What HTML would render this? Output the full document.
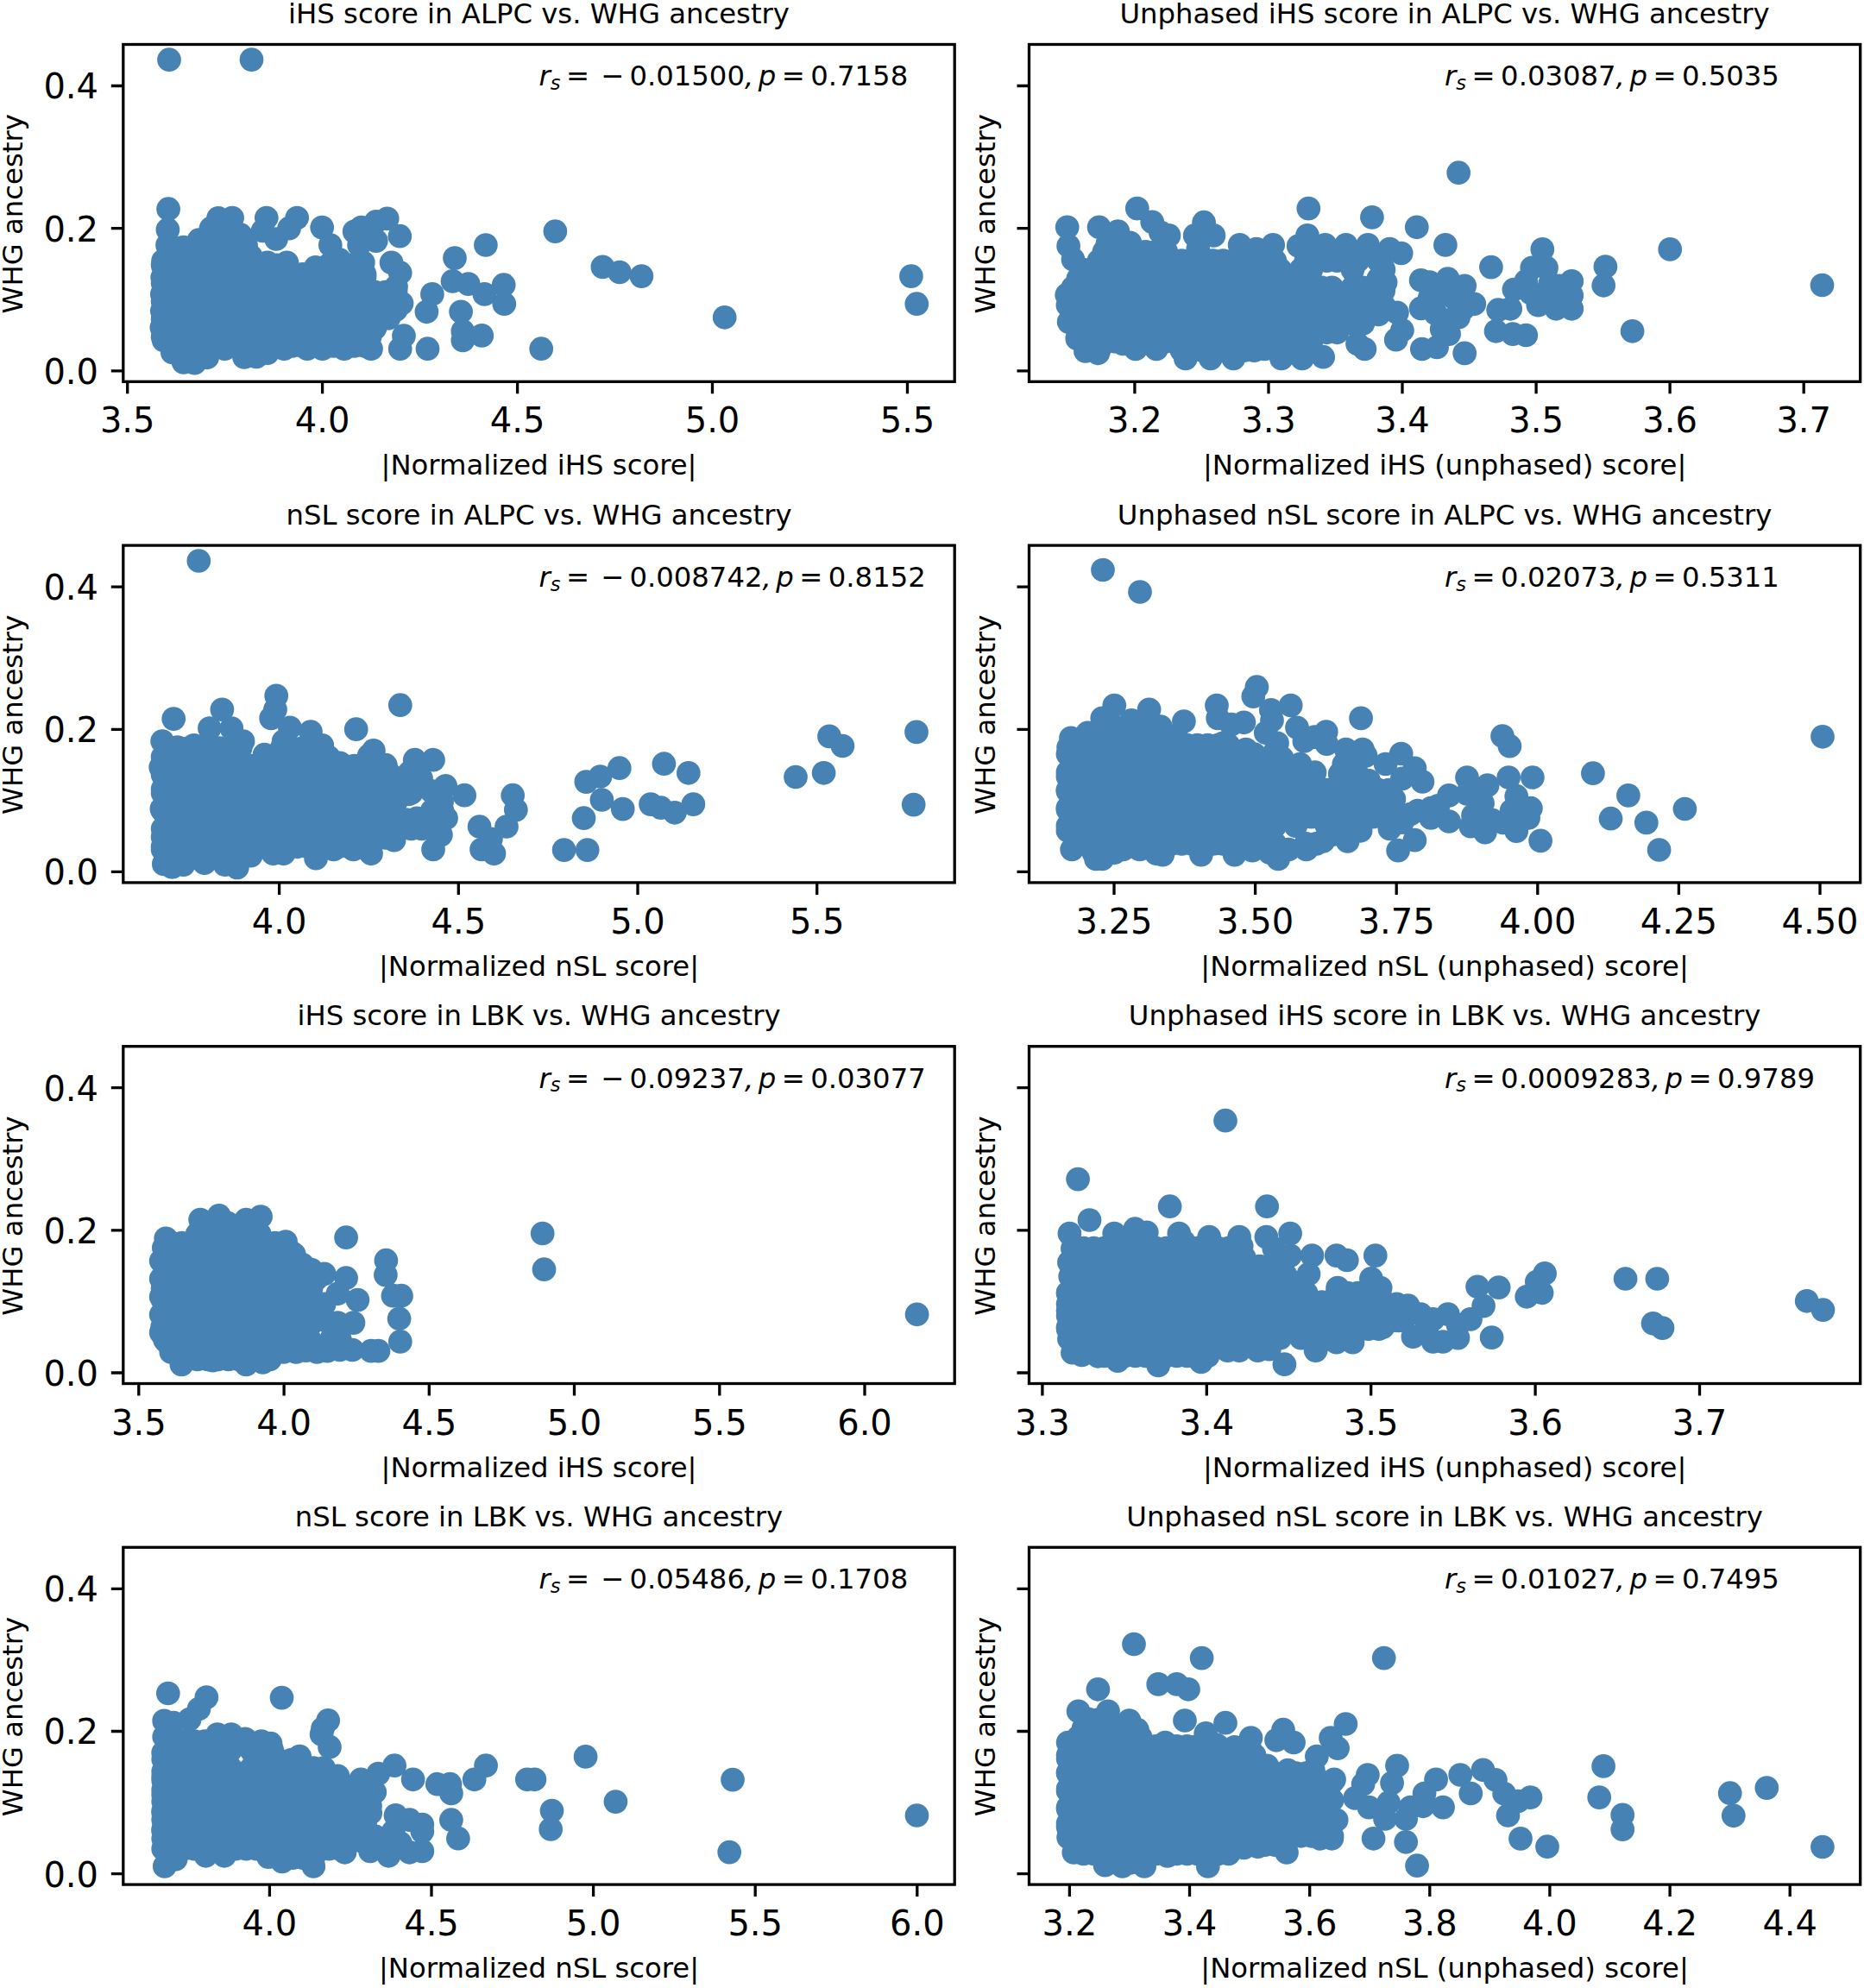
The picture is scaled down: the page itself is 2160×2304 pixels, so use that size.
<!DOCTYPE html>
<html lang="en"><head><meta charset="utf-8"><title>Selection scores vs. WHG ancestry</title>
<style>html,body{margin:0;padding:0;background:#fff}svg{display:block}text{font-family:"DejaVu Sans","Liberation Sans",sans-serif;fill:#000}.tk{font-size:40px}.lb{font-size:32.3px}.it{font-style:italic}.sub{font-size:22.61px;font-style:italic}.ax{fill:none;stroke:#000;stroke-width:3.3}.pt{fill:#4682b4}</style></head><body>
<svg width="2160" height="2304" viewBox="0 0 2160 2304">
<rect width="2160" height="2304" fill="#fff"/>
<g>
<g class="pt">
<circle cx="260.6" cy="265.8" r="13.85"/><circle cx="242.6" cy="276.2" r="13.85"/><circle cx="254.6" cy="276.2" r="13.85"/><circle cx="266.6" cy="276.2" r="13.85"/><circle cx="200.6" cy="286.6" r="13.85"/><circle cx="212.6" cy="286.6" r="13.85"/><circle cx="224.6" cy="286.6" r="13.85"/><circle cx="236.6" cy="286.6" r="13.85"/><circle cx="248.6" cy="286.6" r="13.85"/><circle cx="260.6" cy="286.6" r="13.85"/><circle cx="272.6" cy="286.6" r="13.85"/><circle cx="194.6" cy="297" r="13.85"/><circle cx="206.6" cy="297" r="13.85"/><circle cx="218.6" cy="297" r="13.85"/><circle cx="230.6" cy="297" r="13.85"/><circle cx="242.6" cy="297" r="13.85"/><circle cx="254.6" cy="297" r="13.85"/><circle cx="266.6" cy="297" r="13.85"/><circle cx="278.6" cy="297" r="13.85"/><circle cx="290.6" cy="297" r="13.85"/><circle cx="188.6" cy="307.4" r="13.85"/><circle cx="200.6" cy="307.4" r="13.85"/><circle cx="212.6" cy="307.4" r="13.85"/><circle cx="224.6" cy="307.4" r="13.85"/><circle cx="236.6" cy="307.4" r="13.85"/><circle cx="248.6" cy="307.4" r="13.85"/><circle cx="260.6" cy="307.4" r="13.85"/><circle cx="272.6" cy="307.4" r="13.85"/><circle cx="284.6" cy="307.4" r="13.85"/><circle cx="296.6" cy="307.4" r="13.85"/><circle cx="308.6" cy="307.4" r="13.85"/><circle cx="320.6" cy="307.4" r="13.85"/><circle cx="332.6" cy="307.4" r="13.85"/><circle cx="380.6" cy="307.4" r="13.85"/><circle cx="392.6" cy="307.4" r="13.85"/><circle cx="404.6" cy="307.4" r="13.85"/><circle cx="416.6" cy="307.4" r="13.85"/><circle cx="194.6" cy="317.8" r="13.85"/><circle cx="206.6" cy="317.8" r="13.85"/><circle cx="218.6" cy="317.8" r="13.85"/><circle cx="230.6" cy="317.8" r="13.85"/><circle cx="242.6" cy="317.8" r="13.85"/><circle cx="254.6" cy="317.8" r="13.85"/><circle cx="266.6" cy="317.8" r="13.85"/><circle cx="278.6" cy="317.8" r="13.85"/><circle cx="290.6" cy="317.8" r="13.85"/><circle cx="302.6" cy="317.8" r="13.85"/><circle cx="314.6" cy="317.8" r="13.85"/><circle cx="326.6" cy="317.8" r="13.85"/><circle cx="338.6" cy="317.8" r="13.85"/><circle cx="350.6" cy="317.8" r="13.85"/><circle cx="362.6" cy="317.8" r="13.85"/><circle cx="374.6" cy="317.8" r="13.85"/><circle cx="386.6" cy="317.8" r="13.85"/><circle cx="398.6" cy="317.8" r="13.85"/><circle cx="410.6" cy="317.8" r="13.85"/><circle cx="422.6" cy="317.8" r="13.85"/><circle cx="188.6" cy="328.1" r="13.85"/><circle cx="200.6" cy="328.1" r="13.85"/><circle cx="212.6" cy="328.1" r="13.85"/><circle cx="224.6" cy="328.1" r="13.85"/><circle cx="236.6" cy="328.1" r="13.85"/><circle cx="248.6" cy="328.1" r="13.85"/><circle cx="260.6" cy="328.1" r="13.85"/><circle cx="272.6" cy="328.1" r="13.85"/><circle cx="284.6" cy="328.1" r="13.85"/><circle cx="296.6" cy="328.1" r="13.85"/><circle cx="308.6" cy="328.1" r="13.85"/><circle cx="320.6" cy="328.1" r="13.85"/><circle cx="332.6" cy="328.1" r="13.85"/><circle cx="344.6" cy="328.1" r="13.85"/><circle cx="356.6" cy="328.1" r="13.85"/><circle cx="368.6" cy="328.1" r="13.85"/><circle cx="380.6" cy="328.1" r="13.85"/><circle cx="392.6" cy="328.1" r="13.85"/><circle cx="404.6" cy="328.1" r="13.85"/><circle cx="416.6" cy="328.1" r="13.85"/><circle cx="194.6" cy="338.5" r="13.85"/><circle cx="206.6" cy="338.5" r="13.85"/><circle cx="218.6" cy="338.5" r="13.85"/><circle cx="230.6" cy="338.5" r="13.85"/><circle cx="242.6" cy="338.5" r="13.85"/><circle cx="254.6" cy="338.5" r="13.85"/><circle cx="266.6" cy="338.5" r="13.85"/><circle cx="278.6" cy="338.5" r="13.85"/><circle cx="290.6" cy="338.5" r="13.85"/><circle cx="302.6" cy="338.5" r="13.85"/><circle cx="314.6" cy="338.5" r="13.85"/><circle cx="326.6" cy="338.5" r="13.85"/><circle cx="338.6" cy="338.5" r="13.85"/><circle cx="350.6" cy="338.5" r="13.85"/><circle cx="362.6" cy="338.5" r="13.85"/><circle cx="374.6" cy="338.5" r="13.85"/><circle cx="386.6" cy="338.5" r="13.85"/><circle cx="398.6" cy="338.5" r="13.85"/><circle cx="410.6" cy="338.5" r="13.85"/><circle cx="422.6" cy="338.5" r="13.85"/><circle cx="434.6" cy="338.5" r="13.85"/><circle cx="446.6" cy="338.5" r="13.85"/><circle cx="458.6" cy="338.5" r="13.85"/><circle cx="188.6" cy="348.9" r="13.85"/><circle cx="200.6" cy="348.9" r="13.85"/><circle cx="212.6" cy="348.9" r="13.85"/><circle cx="224.6" cy="348.9" r="13.85"/><circle cx="236.6" cy="348.9" r="13.85"/><circle cx="248.6" cy="348.9" r="13.85"/><circle cx="260.6" cy="348.9" r="13.85"/><circle cx="272.6" cy="348.9" r="13.85"/><circle cx="284.6" cy="348.9" r="13.85"/><circle cx="296.6" cy="348.9" r="13.85"/><circle cx="308.6" cy="348.9" r="13.85"/><circle cx="320.6" cy="348.9" r="13.85"/><circle cx="332.6" cy="348.9" r="13.85"/><circle cx="344.6" cy="348.9" r="13.85"/><circle cx="356.6" cy="348.9" r="13.85"/><circle cx="368.6" cy="348.9" r="13.85"/><circle cx="380.6" cy="348.9" r="13.85"/><circle cx="392.6" cy="348.9" r="13.85"/><circle cx="404.6" cy="348.9" r="13.85"/><circle cx="416.6" cy="348.9" r="13.85"/><circle cx="428.6" cy="348.9" r="13.85"/><circle cx="440.6" cy="348.9" r="13.85"/><circle cx="452.6" cy="348.9" r="13.85"/><circle cx="194.6" cy="359.3" r="13.85"/><circle cx="206.6" cy="359.3" r="13.85"/><circle cx="218.6" cy="359.3" r="13.85"/><circle cx="230.6" cy="359.3" r="13.85"/><circle cx="242.6" cy="359.3" r="13.85"/><circle cx="254.6" cy="359.3" r="13.85"/><circle cx="266.6" cy="359.3" r="13.85"/><circle cx="278.6" cy="359.3" r="13.85"/><circle cx="290.6" cy="359.3" r="13.85"/><circle cx="302.6" cy="359.3" r="13.85"/><circle cx="314.6" cy="359.3" r="13.85"/><circle cx="326.6" cy="359.3" r="13.85"/><circle cx="338.6" cy="359.3" r="13.85"/><circle cx="350.6" cy="359.3" r="13.85"/><circle cx="362.6" cy="359.3" r="13.85"/><circle cx="374.6" cy="359.3" r="13.85"/><circle cx="386.6" cy="359.3" r="13.85"/><circle cx="398.6" cy="359.3" r="13.85"/><circle cx="410.6" cy="359.3" r="13.85"/><circle cx="422.6" cy="359.3" r="13.85"/><circle cx="434.6" cy="359.3" r="13.85"/><circle cx="446.6" cy="359.3" r="13.85"/><circle cx="458.6" cy="359.3" r="13.85"/><circle cx="188.6" cy="369.7" r="13.85"/><circle cx="200.6" cy="369.7" r="13.85"/><circle cx="212.6" cy="369.7" r="13.85"/><circle cx="224.6" cy="369.7" r="13.85"/><circle cx="236.6" cy="369.7" r="13.85"/><circle cx="248.6" cy="369.7" r="13.85"/><circle cx="260.6" cy="369.7" r="13.85"/><circle cx="272.6" cy="369.7" r="13.85"/><circle cx="284.6" cy="369.7" r="13.85"/><circle cx="296.6" cy="369.7" r="13.85"/><circle cx="308.6" cy="369.7" r="13.85"/><circle cx="320.6" cy="369.7" r="13.85"/><circle cx="332.6" cy="369.7" r="13.85"/><circle cx="344.6" cy="369.7" r="13.85"/><circle cx="356.6" cy="369.7" r="13.85"/><circle cx="368.6" cy="369.7" r="13.85"/><circle cx="380.6" cy="369.7" r="13.85"/><circle cx="392.6" cy="369.7" r="13.85"/><circle cx="404.6" cy="369.7" r="13.85"/><circle cx="416.6" cy="369.7" r="13.85"/><circle cx="428.6" cy="369.7" r="13.85"/><circle cx="440.6" cy="369.7" r="13.85"/><circle cx="194.6" cy="380.1" r="13.85"/><circle cx="206.6" cy="380.1" r="13.85"/><circle cx="218.6" cy="380.1" r="13.85"/><circle cx="230.6" cy="380.1" r="13.85"/><circle cx="242.6" cy="380.1" r="13.85"/><circle cx="254.6" cy="380.1" r="13.85"/><circle cx="266.6" cy="380.1" r="13.85"/><circle cx="278.6" cy="380.1" r="13.85"/><circle cx="290.6" cy="380.1" r="13.85"/><circle cx="302.6" cy="380.1" r="13.85"/><circle cx="314.6" cy="380.1" r="13.85"/><circle cx="326.6" cy="380.1" r="13.85"/><circle cx="338.6" cy="380.1" r="13.85"/><circle cx="350.6" cy="380.1" r="13.85"/><circle cx="362.6" cy="380.1" r="13.85"/><circle cx="374.6" cy="380.1" r="13.85"/><circle cx="386.6" cy="380.1" r="13.85"/><circle cx="398.6" cy="380.1" r="13.85"/><circle cx="410.6" cy="380.1" r="13.85"/><circle cx="422.6" cy="380.1" r="13.85"/><circle cx="434.6" cy="380.1" r="13.85"/><circle cx="188.6" cy="390.5" r="13.85"/><circle cx="200.6" cy="390.5" r="13.85"/><circle cx="212.6" cy="390.5" r="13.85"/><circle cx="224.6" cy="390.5" r="13.85"/><circle cx="236.6" cy="390.5" r="13.85"/><circle cx="248.6" cy="390.5" r="13.85"/><circle cx="260.6" cy="390.5" r="13.85"/><circle cx="272.6" cy="390.5" r="13.85"/><circle cx="284.6" cy="390.5" r="13.85"/><circle cx="296.6" cy="390.5" r="13.85"/><circle cx="308.6" cy="390.5" r="13.85"/><circle cx="320.6" cy="390.5" r="13.85"/><circle cx="332.6" cy="390.5" r="13.85"/><circle cx="344.6" cy="390.5" r="13.85"/><circle cx="356.6" cy="390.5" r="13.85"/><circle cx="368.6" cy="390.5" r="13.85"/><circle cx="380.6" cy="390.5" r="13.85"/><circle cx="392.6" cy="390.5" r="13.85"/><circle cx="404.6" cy="390.5" r="13.85"/><circle cx="416.6" cy="390.5" r="13.85"/><circle cx="428.6" cy="390.5" r="13.85"/><circle cx="206.6" cy="400.9" r="13.85"/><circle cx="218.6" cy="400.9" r="13.85"/><circle cx="230.6" cy="400.9" r="13.85"/><circle cx="242.6" cy="400.9" r="13.85"/><circle cx="254.6" cy="400.9" r="13.85"/><circle cx="266.6" cy="400.9" r="13.85"/><circle cx="278.6" cy="400.9" r="13.85"/><circle cx="290.6" cy="400.9" r="13.85"/><circle cx="302.6" cy="400.9" r="13.85"/><circle cx="314.6" cy="400.9" r="13.85"/><circle cx="326.6" cy="400.9" r="13.85"/><circle cx="338.6" cy="400.9" r="13.85"/><circle cx="350.6" cy="400.9" r="13.85"/><circle cx="362.6" cy="400.9" r="13.85"/><circle cx="374.6" cy="400.9" r="13.85"/><circle cx="386.6" cy="400.9" r="13.85"/><circle cx="398.6" cy="400.9" r="13.85"/><circle cx="410.6" cy="400.9" r="13.85"/><circle cx="422.6" cy="400.9" r="13.85"/><circle cx="212.6" cy="411.3" r="13.85"/><circle cx="224.6" cy="411.3" r="13.85"/><circle cx="236.6" cy="411.3" r="13.85"/><circle cx="195.1" cy="242.2" r="13.85"/><circle cx="194.4" cy="266.2" r="13.85"/><circle cx="194" cy="284" r="13.85"/><circle cx="189.1" cy="302.3" r="13.85"/><circle cx="188.2" cy="321.6" r="13.85"/><circle cx="187.8" cy="340.9" r="13.85"/><circle cx="187.8" cy="360.2" r="13.85"/><circle cx="187.3" cy="379.5" r="13.85"/><circle cx="189.7" cy="394.5" r="13.85"/><circle cx="199.8" cy="408.5" r="13.85"/><circle cx="212.7" cy="419.9" r="13.85"/><circle cx="225.5" cy="420.7" r="13.85"/><circle cx="240.1" cy="414.3" r="13.85"/><circle cx="260.5" cy="404.2" r="13.85"/><circle cx="283" cy="413.9" r="13.85"/><circle cx="297" cy="413.4" r="13.85"/><circle cx="309.9" cy="409.1" r="13.85"/><circle cx="329.2" cy="404.2" r="13.85"/><circle cx="356" cy="404.2" r="13.85"/><circle cx="373.6" cy="404.2" r="13.85"/><circle cx="398.9" cy="404.2" r="13.85"/><circle cx="430" cy="404.2" r="13.85"/><circle cx="463.7" cy="404.2" r="13.85"/><circle cx="468" cy="389.2" r="13.85"/><circle cx="495.5" cy="404.2" r="13.85"/><circle cx="230.5" cy="278.2" r="13.85"/><circle cx="244.4" cy="264.7" r="13.85"/><circle cx="253" cy="252.9" r="13.85"/><circle cx="269.1" cy="252.5" r="13.85"/><circle cx="278.8" cy="272.2" r="13.85"/><circle cx="285.2" cy="285.1" r="13.85"/><circle cx="308.8" cy="252.5" r="13.85"/><circle cx="344.2" cy="252.5" r="13.85"/><circle cx="304.5" cy="267.5" r="13.85"/><circle cx="320" cy="277" r="13.85"/><circle cx="335" cy="264.7" r="13.85"/><circle cx="309.9" cy="304.4" r="13.85"/><circle cx="332.4" cy="304.4" r="13.85"/><circle cx="365.7" cy="309.8" r="13.85"/><circle cx="373.2" cy="263.6" r="13.85"/><circle cx="382.8" cy="284" r="13.85"/><circle cx="393.6" cy="301.2" r="13.85"/><circle cx="410.7" cy="268.4" r="13.85"/><circle cx="418.7" cy="263.6" r="13.85"/><circle cx="435.8" cy="256.8" r="13.85"/><circle cx="448.7" cy="253.3" r="13.85"/><circle cx="463.3" cy="273.7" r="13.85"/><circle cx="435.8" cy="279.1" r="13.85"/><circle cx="416.1" cy="284" r="13.85"/><circle cx="420.8" cy="304.4" r="13.85"/><circle cx="422.5" cy="321.6" r="13.85"/><circle cx="453.6" cy="304.4" r="13.85"/><circle cx="463.7" cy="316.2" r="13.85"/><circle cx="459" cy="332.3" r="13.85"/><circle cx="465.5" cy="351.6" r="13.85"/><circle cx="450.4" cy="368.8" r="13.85"/><circle cx="527" cy="299.1" r="13.85"/><circle cx="524.5" cy="325.9" r="13.85"/><circle cx="542.7" cy="329.1" r="13.85"/><circle cx="500.9" cy="340.9" r="13.85"/><circle cx="494.4" cy="361.3" r="13.85"/><circle cx="534.1" cy="361.3" r="13.85"/><circle cx="536.3" cy="383.8" r="13.85"/><circle cx="536.3" cy="394.5" r="13.85"/><circle cx="562.9" cy="284" r="13.85"/><circle cx="643.4" cy="268.1" r="13.85"/><circle cx="698.4" cy="309.4" r="13.85"/><circle cx="718" cy="315.5" r="13.85"/><circle cx="743.4" cy="320.1" r="13.85"/><circle cx="839.7" cy="367.8" r="13.85"/><circle cx="1055.9" cy="320.1" r="13.85"/><circle cx="1062.3" cy="352.2" r="13.85"/><circle cx="583.7" cy="330.2" r="13.85"/><circle cx="561.4" cy="340.9" r="13.85"/><circle cx="584.3" cy="352.2" r="13.85"/><circle cx="558.3" cy="388.9" r="13.85"/><circle cx="627.2" cy="404.2" r="13.85"/><circle cx="196" cy="69.2" r="13.85"/><circle cx="291.5" cy="69.1" r="13.85"/>
</g>
<path class="ax" d="M147.7 442.3v14.0M373.6 442.3v14.0M599.6 442.3v14.0M825.5 442.3v14.0M1051.5 442.3v14.0M142.8 429.8h-14.0M142.8 264.6h-14.0M142.8 99.5h-14.0"/>
<rect class="ax" x="142.8" y="51.5" width="963.4" height="390.8"/>
<text class="tk" text-anchor="middle" x="147.7" y="501.3">3.5</text>
<text class="tk" text-anchor="middle" x="373.6" y="501.3">4.0</text>
<text class="tk" text-anchor="middle" x="599.6" y="501.3">4.5</text>
<text class="tk" text-anchor="middle" x="825.5" y="501.3">5.0</text>
<text class="tk" text-anchor="middle" x="1051.5" y="501.3">5.5</text>
<text class="tk" text-anchor="end" x="114.0" y="444.7">0.0</text>
<text class="tk" text-anchor="end" x="114.0" y="279.5">0.2</text>
<text class="tk" text-anchor="end" x="114.0" y="114.4">0.4</text>
<text class="lb" text-anchor="middle" x="624.5" y="27.1">iHS score in ALPC vs. WHG ancestry</text>
<text class="lb" text-anchor="middle" x="624.5" y="550.3">|Normalized iHS score|</text>
<text class="lb" text-anchor="middle" transform="translate(26.4 247.8) rotate(-90)">WHG ancestry</text>
<text class="lb" y="99.3"><tspan class="it" x="624.4">r</tspan><tspan class="sub" x="637.7" dy="4.7">s</tspan><tspan x="655.9" dy="-4.7">=</tspan><tspan x="695.9">−</tspan><tspan x="729.4">0.01500</tspan><tspan class="it" x="863.0">,</tspan><tspan class="it" x="878.7">p</tspan><tspan x="905.7">=</tspan><tspan x="939.2">0.7158</tspan></text>
</g>
<g>
<g class="pt">
<circle cx="1285.4" cy="281.4" r="13.85"/><circle cx="1297.4" cy="281.4" r="13.85"/><circle cx="1309.4" cy="281.4" r="13.85"/><circle cx="1279.4" cy="291.8" r="13.85"/><circle cx="1291.4" cy="291.8" r="13.85"/><circle cx="1303.4" cy="291.8" r="13.85"/><circle cx="1315.4" cy="291.8" r="13.85"/><circle cx="1327.4" cy="291.8" r="13.85"/><circle cx="1339.4" cy="291.8" r="13.85"/><circle cx="1351.4" cy="291.8" r="13.85"/><circle cx="1519.4" cy="291.8" r="13.85"/><circle cx="1531.4" cy="291.8" r="13.85"/><circle cx="1543.4" cy="291.8" r="13.85"/><circle cx="1555.4" cy="291.8" r="13.85"/><circle cx="1567.4" cy="291.8" r="13.85"/><circle cx="1579.4" cy="291.8" r="13.85"/><circle cx="1273.4" cy="302.2" r="13.85"/><circle cx="1285.4" cy="302.2" r="13.85"/><circle cx="1297.4" cy="302.2" r="13.85"/><circle cx="1309.4" cy="302.2" r="13.85"/><circle cx="1321.4" cy="302.2" r="13.85"/><circle cx="1333.4" cy="302.2" r="13.85"/><circle cx="1345.4" cy="302.2" r="13.85"/><circle cx="1357.4" cy="302.2" r="13.85"/><circle cx="1369.4" cy="302.2" r="13.85"/><circle cx="1381.4" cy="302.2" r="13.85"/><circle cx="1393.4" cy="302.2" r="13.85"/><circle cx="1405.4" cy="302.2" r="13.85"/><circle cx="1417.4" cy="302.2" r="13.85"/><circle cx="1429.4" cy="302.2" r="13.85"/><circle cx="1441.4" cy="302.2" r="13.85"/><circle cx="1453.4" cy="302.2" r="13.85"/><circle cx="1465.4" cy="302.2" r="13.85"/><circle cx="1477.4" cy="302.2" r="13.85"/><circle cx="1513.4" cy="302.2" r="13.85"/><circle cx="1525.4" cy="302.2" r="13.85"/><circle cx="1537.4" cy="302.2" r="13.85"/><circle cx="1549.4" cy="302.2" r="13.85"/><circle cx="1561.4" cy="302.2" r="13.85"/><circle cx="1573.4" cy="302.2" r="13.85"/><circle cx="1597.4" cy="302.2" r="13.85"/><circle cx="1255.4" cy="312.6" r="13.85"/><circle cx="1267.4" cy="312.6" r="13.85"/><circle cx="1279.4" cy="312.6" r="13.85"/><circle cx="1291.4" cy="312.6" r="13.85"/><circle cx="1303.4" cy="312.6" r="13.85"/><circle cx="1315.4" cy="312.6" r="13.85"/><circle cx="1327.4" cy="312.6" r="13.85"/><circle cx="1339.4" cy="312.6" r="13.85"/><circle cx="1351.4" cy="312.6" r="13.85"/><circle cx="1363.4" cy="312.6" r="13.85"/><circle cx="1375.4" cy="312.6" r="13.85"/><circle cx="1387.4" cy="312.6" r="13.85"/><circle cx="1399.4" cy="312.6" r="13.85"/><circle cx="1411.4" cy="312.6" r="13.85"/><circle cx="1423.4" cy="312.6" r="13.85"/><circle cx="1435.4" cy="312.6" r="13.85"/><circle cx="1447.4" cy="312.6" r="13.85"/><circle cx="1459.4" cy="312.6" r="13.85"/><circle cx="1471.4" cy="312.6" r="13.85"/><circle cx="1483.4" cy="312.6" r="13.85"/><circle cx="1507.4" cy="312.6" r="13.85"/><circle cx="1519.4" cy="312.6" r="13.85"/><circle cx="1567.4" cy="312.6" r="13.85"/><circle cx="1603.4" cy="312.6" r="13.85"/><circle cx="1249.4" cy="323" r="13.85"/><circle cx="1261.4" cy="323" r="13.85"/><circle cx="1273.4" cy="323" r="13.85"/><circle cx="1285.4" cy="323" r="13.85"/><circle cx="1297.4" cy="323" r="13.85"/><circle cx="1309.4" cy="323" r="13.85"/><circle cx="1321.4" cy="323" r="13.85"/><circle cx="1333.4" cy="323" r="13.85"/><circle cx="1345.4" cy="323" r="13.85"/><circle cx="1357.4" cy="323" r="13.85"/><circle cx="1369.4" cy="323" r="13.85"/><circle cx="1381.4" cy="323" r="13.85"/><circle cx="1393.4" cy="323" r="13.85"/><circle cx="1405.4" cy="323" r="13.85"/><circle cx="1417.4" cy="323" r="13.85"/><circle cx="1429.4" cy="323" r="13.85"/><circle cx="1441.4" cy="323" r="13.85"/><circle cx="1453.4" cy="323" r="13.85"/><circle cx="1465.4" cy="323" r="13.85"/><circle cx="1477.4" cy="323" r="13.85"/><circle cx="1489.4" cy="323" r="13.85"/><circle cx="1501.4" cy="323" r="13.85"/><circle cx="1513.4" cy="323" r="13.85"/><circle cx="1597.4" cy="323" r="13.85"/><circle cx="1243.4" cy="333.4" r="13.85"/><circle cx="1255.4" cy="333.4" r="13.85"/><circle cx="1267.4" cy="333.4" r="13.85"/><circle cx="1279.4" cy="333.4" r="13.85"/><circle cx="1291.4" cy="333.4" r="13.85"/><circle cx="1303.4" cy="333.4" r="13.85"/><circle cx="1315.4" cy="333.4" r="13.85"/><circle cx="1327.4" cy="333.4" r="13.85"/><circle cx="1339.4" cy="333.4" r="13.85"/><circle cx="1351.4" cy="333.4" r="13.85"/><circle cx="1363.4" cy="333.4" r="13.85"/><circle cx="1375.4" cy="333.4" r="13.85"/><circle cx="1387.4" cy="333.4" r="13.85"/><circle cx="1399.4" cy="333.4" r="13.85"/><circle cx="1411.4" cy="333.4" r="13.85"/><circle cx="1423.4" cy="333.4" r="13.85"/><circle cx="1435.4" cy="333.4" r="13.85"/><circle cx="1447.4" cy="333.4" r="13.85"/><circle cx="1459.4" cy="333.4" r="13.85"/><circle cx="1471.4" cy="333.4" r="13.85"/><circle cx="1483.4" cy="333.4" r="13.85"/><circle cx="1495.4" cy="333.4" r="13.85"/><circle cx="1507.4" cy="333.4" r="13.85"/><circle cx="1519.4" cy="333.4" r="13.85"/><circle cx="1531.4" cy="333.4" r="13.85"/><circle cx="1543.4" cy="333.4" r="13.85"/><circle cx="1567.4" cy="333.4" r="13.85"/><circle cx="1579.4" cy="333.4" r="13.85"/><circle cx="1591.4" cy="333.4" r="13.85"/><circle cx="1603.4" cy="333.4" r="13.85"/><circle cx="1249.4" cy="343.7" r="13.85"/><circle cx="1261.4" cy="343.7" r="13.85"/><circle cx="1273.4" cy="343.7" r="13.85"/><circle cx="1285.4" cy="343.7" r="13.85"/><circle cx="1297.4" cy="343.7" r="13.85"/><circle cx="1309.4" cy="343.7" r="13.85"/><circle cx="1321.4" cy="343.7" r="13.85"/><circle cx="1333.4" cy="343.7" r="13.85"/><circle cx="1345.4" cy="343.7" r="13.85"/><circle cx="1357.4" cy="343.7" r="13.85"/><circle cx="1369.4" cy="343.7" r="13.85"/><circle cx="1381.4" cy="343.7" r="13.85"/><circle cx="1393.4" cy="343.7" r="13.85"/><circle cx="1405.4" cy="343.7" r="13.85"/><circle cx="1417.4" cy="343.7" r="13.85"/><circle cx="1429.4" cy="343.7" r="13.85"/><circle cx="1441.4" cy="343.7" r="13.85"/><circle cx="1453.4" cy="343.7" r="13.85"/><circle cx="1465.4" cy="343.7" r="13.85"/><circle cx="1477.4" cy="343.7" r="13.85"/><circle cx="1489.4" cy="343.7" r="13.85"/><circle cx="1501.4" cy="343.7" r="13.85"/><circle cx="1513.4" cy="343.7" r="13.85"/><circle cx="1525.4" cy="343.7" r="13.85"/><circle cx="1537.4" cy="343.7" r="13.85"/><circle cx="1549.4" cy="343.7" r="13.85"/><circle cx="1561.4" cy="343.7" r="13.85"/><circle cx="1573.4" cy="343.7" r="13.85"/><circle cx="1585.4" cy="343.7" r="13.85"/><circle cx="1597.4" cy="343.7" r="13.85"/><circle cx="1243.4" cy="354.1" r="13.85"/><circle cx="1255.4" cy="354.1" r="13.85"/><circle cx="1267.4" cy="354.1" r="13.85"/><circle cx="1279.4" cy="354.1" r="13.85"/><circle cx="1291.4" cy="354.1" r="13.85"/><circle cx="1303.4" cy="354.1" r="13.85"/><circle cx="1315.4" cy="354.1" r="13.85"/><circle cx="1327.4" cy="354.1" r="13.85"/><circle cx="1339.4" cy="354.1" r="13.85"/><circle cx="1351.4" cy="354.1" r="13.85"/><circle cx="1363.4" cy="354.1" r="13.85"/><circle cx="1375.4" cy="354.1" r="13.85"/><circle cx="1387.4" cy="354.1" r="13.85"/><circle cx="1399.4" cy="354.1" r="13.85"/><circle cx="1411.4" cy="354.1" r="13.85"/><circle cx="1423.4" cy="354.1" r="13.85"/><circle cx="1435.4" cy="354.1" r="13.85"/><circle cx="1447.4" cy="354.1" r="13.85"/><circle cx="1459.4" cy="354.1" r="13.85"/><circle cx="1471.4" cy="354.1" r="13.85"/><circle cx="1483.4" cy="354.1" r="13.85"/><circle cx="1495.4" cy="354.1" r="13.85"/><circle cx="1507.4" cy="354.1" r="13.85"/><circle cx="1519.4" cy="354.1" r="13.85"/><circle cx="1531.4" cy="354.1" r="13.85"/><circle cx="1543.4" cy="354.1" r="13.85"/><circle cx="1555.4" cy="354.1" r="13.85"/><circle cx="1567.4" cy="354.1" r="13.85"/><circle cx="1579.4" cy="354.1" r="13.85"/><circle cx="1591.4" cy="354.1" r="13.85"/><circle cx="1603.4" cy="354.1" r="13.85"/><circle cx="1249.4" cy="364.5" r="13.85"/><circle cx="1261.4" cy="364.5" r="13.85"/><circle cx="1273.4" cy="364.5" r="13.85"/><circle cx="1285.4" cy="364.5" r="13.85"/><circle cx="1297.4" cy="364.5" r="13.85"/><circle cx="1309.4" cy="364.5" r="13.85"/><circle cx="1321.4" cy="364.5" r="13.85"/><circle cx="1333.4" cy="364.5" r="13.85"/><circle cx="1345.4" cy="364.5" r="13.85"/><circle cx="1357.4" cy="364.5" r="13.85"/><circle cx="1369.4" cy="364.5" r="13.85"/><circle cx="1381.4" cy="364.5" r="13.85"/><circle cx="1393.4" cy="364.5" r="13.85"/><circle cx="1405.4" cy="364.5" r="13.85"/><circle cx="1417.4" cy="364.5" r="13.85"/><circle cx="1429.4" cy="364.5" r="13.85"/><circle cx="1441.4" cy="364.5" r="13.85"/><circle cx="1453.4" cy="364.5" r="13.85"/><circle cx="1465.4" cy="364.5" r="13.85"/><circle cx="1477.4" cy="364.5" r="13.85"/><circle cx="1489.4" cy="364.5" r="13.85"/><circle cx="1501.4" cy="364.5" r="13.85"/><circle cx="1513.4" cy="364.5" r="13.85"/><circle cx="1525.4" cy="364.5" r="13.85"/><circle cx="1537.4" cy="364.5" r="13.85"/><circle cx="1549.4" cy="364.5" r="13.85"/><circle cx="1561.4" cy="364.5" r="13.85"/><circle cx="1573.4" cy="364.5" r="13.85"/><circle cx="1585.4" cy="364.5" r="13.85"/><circle cx="1597.4" cy="364.5" r="13.85"/><circle cx="1243.4" cy="374.9" r="13.85"/><circle cx="1255.4" cy="374.9" r="13.85"/><circle cx="1267.4" cy="374.9" r="13.85"/><circle cx="1279.4" cy="374.9" r="13.85"/><circle cx="1291.4" cy="374.9" r="13.85"/><circle cx="1303.4" cy="374.9" r="13.85"/><circle cx="1315.4" cy="374.9" r="13.85"/><circle cx="1327.4" cy="374.9" r="13.85"/><circle cx="1339.4" cy="374.9" r="13.85"/><circle cx="1351.4" cy="374.9" r="13.85"/><circle cx="1363.4" cy="374.9" r="13.85"/><circle cx="1375.4" cy="374.9" r="13.85"/><circle cx="1387.4" cy="374.9" r="13.85"/><circle cx="1399.4" cy="374.9" r="13.85"/><circle cx="1411.4" cy="374.9" r="13.85"/><circle cx="1423.4" cy="374.9" r="13.85"/><circle cx="1435.4" cy="374.9" r="13.85"/><circle cx="1447.4" cy="374.9" r="13.85"/><circle cx="1459.4" cy="374.9" r="13.85"/><circle cx="1471.4" cy="374.9" r="13.85"/><circle cx="1483.4" cy="374.9" r="13.85"/><circle cx="1495.4" cy="374.9" r="13.85"/><circle cx="1507.4" cy="374.9" r="13.85"/><circle cx="1519.4" cy="374.9" r="13.85"/><circle cx="1531.4" cy="374.9" r="13.85"/><circle cx="1543.4" cy="374.9" r="13.85"/><circle cx="1555.4" cy="374.9" r="13.85"/><circle cx="1567.4" cy="374.9" r="13.85"/><circle cx="1579.4" cy="374.9" r="13.85"/><circle cx="1249.4" cy="385.3" r="13.85"/><circle cx="1261.4" cy="385.3" r="13.85"/><circle cx="1273.4" cy="385.3" r="13.85"/><circle cx="1285.4" cy="385.3" r="13.85"/><circle cx="1297.4" cy="385.3" r="13.85"/><circle cx="1309.4" cy="385.3" r="13.85"/><circle cx="1321.4" cy="385.3" r="13.85"/><circle cx="1333.4" cy="385.3" r="13.85"/><circle cx="1345.4" cy="385.3" r="13.85"/><circle cx="1357.4" cy="385.3" r="13.85"/><circle cx="1369.4" cy="385.3" r="13.85"/><circle cx="1381.4" cy="385.3" r="13.85"/><circle cx="1393.4" cy="385.3" r="13.85"/><circle cx="1405.4" cy="385.3" r="13.85"/><circle cx="1417.4" cy="385.3" r="13.85"/><circle cx="1429.4" cy="385.3" r="13.85"/><circle cx="1441.4" cy="385.3" r="13.85"/><circle cx="1453.4" cy="385.3" r="13.85"/><circle cx="1465.4" cy="385.3" r="13.85"/><circle cx="1477.4" cy="385.3" r="13.85"/><circle cx="1489.4" cy="385.3" r="13.85"/><circle cx="1501.4" cy="385.3" r="13.85"/><circle cx="1513.4" cy="385.3" r="13.85"/><circle cx="1525.4" cy="385.3" r="13.85"/><circle cx="1537.4" cy="385.3" r="13.85"/><circle cx="1549.4" cy="385.3" r="13.85"/><circle cx="1255.4" cy="395.7" r="13.85"/><circle cx="1267.4" cy="395.7" r="13.85"/><circle cx="1279.4" cy="395.7" r="13.85"/><circle cx="1291.4" cy="395.7" r="13.85"/><circle cx="1303.4" cy="395.7" r="13.85"/><circle cx="1315.4" cy="395.7" r="13.85"/><circle cx="1327.4" cy="395.7" r="13.85"/><circle cx="1339.4" cy="395.7" r="13.85"/><circle cx="1351.4" cy="395.7" r="13.85"/><circle cx="1363.4" cy="395.7" r="13.85"/><circle cx="1375.4" cy="395.7" r="13.85"/><circle cx="1387.4" cy="395.7" r="13.85"/><circle cx="1399.4" cy="395.7" r="13.85"/><circle cx="1411.4" cy="395.7" r="13.85"/><circle cx="1423.4" cy="395.7" r="13.85"/><circle cx="1435.4" cy="395.7" r="13.85"/><circle cx="1447.4" cy="395.7" r="13.85"/><circle cx="1459.4" cy="395.7" r="13.85"/><circle cx="1471.4" cy="395.7" r="13.85"/><circle cx="1483.4" cy="395.7" r="13.85"/><circle cx="1495.4" cy="395.7" r="13.85"/><circle cx="1507.4" cy="395.7" r="13.85"/><circle cx="1519.4" cy="395.7" r="13.85"/><circle cx="1273.4" cy="406.1" r="13.85"/><circle cx="1369.4" cy="406.1" r="13.85"/><circle cx="1381.4" cy="406.1" r="13.85"/><circle cx="1393.4" cy="406.1" r="13.85"/><circle cx="1405.4" cy="406.1" r="13.85"/><circle cx="1417.4" cy="406.1" r="13.85"/><circle cx="1429.4" cy="406.1" r="13.85"/><circle cx="1441.4" cy="406.1" r="13.85"/><circle cx="1453.4" cy="406.1" r="13.85"/><circle cx="1236.7" cy="263.3" r="13.85"/><circle cx="1238.1" cy="285" r="13.85"/><circle cx="1243.5" cy="300.7" r="13.85"/><circle cx="1236.2" cy="341.7" r="13.85"/><circle cx="1237.4" cy="353.8" r="13.85"/><circle cx="1238.6" cy="373.1" r="13.85"/><circle cx="1248.3" cy="392.4" r="13.85"/><circle cx="1257.9" cy="406.9" r="13.85"/><circle cx="1272.4" cy="409.3" r="13.85"/><circle cx="1273.6" cy="263.3" r="13.85"/><circle cx="1295.4" cy="268.1" r="13.85"/><circle cx="1283.3" cy="282.6" r="13.85"/><circle cx="1317.8" cy="241.6" r="13.85"/><circle cx="1335.2" cy="257.3" r="13.85"/><circle cx="1344.8" cy="269.3" r="13.85"/><circle cx="1354.5" cy="272.9" r="13.85"/><circle cx="1395.1" cy="257.7" r="13.85"/><circle cx="1384.7" cy="272.9" r="13.85"/><circle cx="1406.4" cy="272.9" r="13.85"/><circle cx="1388.3" cy="288.6" r="13.85"/><circle cx="1436.6" cy="283.8" r="13.85"/><circle cx="1455.9" cy="288.6" r="13.85"/><circle cx="1475.2" cy="283.8" r="13.85"/><circle cx="1516.3" cy="241.6" r="13.85"/><circle cx="1515" cy="272.9" r="13.85"/><circle cx="1504.7" cy="285" r="13.85"/><circle cx="1535.6" cy="283.8" r="13.85"/><circle cx="1559.7" cy="283.8" r="13.85"/><circle cx="1585.1" cy="283.8" r="13.85"/><circle cx="1610.4" cy="288.6" r="13.85"/><circle cx="1623.7" cy="293.5" r="13.85"/><circle cx="1589.9" cy="251.9" r="13.85"/><circle cx="1641.8" cy="263.3" r="13.85"/><circle cx="1602" cy="310.4" r="13.85"/><circle cx="1605.6" cy="327.3" r="13.85"/><circle cx="1603.2" cy="336.9" r="13.85"/><circle cx="1618.9" cy="362.3" r="13.85"/><circle cx="1624.9" cy="382.8" r="13.85"/><circle cx="1617.7" cy="393.7" r="13.85"/><circle cx="1573" cy="398.5" r="13.85"/><circle cx="1581.4" cy="404.5" r="13.85"/><circle cx="1533.2" cy="413.7" r="13.85"/><circle cx="1509" cy="415.4" r="13.85"/><circle cx="1484.9" cy="415.4" r="13.85"/><circle cx="1646.6" cy="324.8" r="13.85"/><circle cx="1646.6" cy="357.4" r="13.85"/><circle cx="1647.8" cy="404.5" r="13.85"/><circle cx="1301.4" cy="398.5" r="13.85"/><circle cx="1315.9" cy="404.5" r="13.85"/><circle cx="1340" cy="404.5" r="13.85"/><circle cx="1373.8" cy="415.4" r="13.85"/><circle cx="1402.8" cy="415.4" r="13.85"/><circle cx="1429.3" cy="415.4" r="13.85"/><circle cx="1465.6" cy="404.5" r="13.85"/><circle cx="1690.2" cy="200.2" r="13.85"/><circle cx="1674.9" cy="283.9" r="13.85"/><circle cx="1727.9" cy="309.6" r="13.85"/><circle cx="1787.3" cy="288.9" r="13.85"/><circle cx="1775.3" cy="310.4" r="13.85"/><circle cx="1792" cy="310.4" r="13.85"/><circle cx="1768.3" cy="325.8" r="13.85"/><circle cx="1754.4" cy="335.5" r="13.85"/><circle cx="1821.3" cy="325.8" r="13.85"/><circle cx="1807.4" cy="331.3" r="13.85"/><circle cx="1821.3" cy="342.5" r="13.85"/><circle cx="1782.3" cy="353.6" r="13.85"/><circle cx="1803.2" cy="357.8" r="13.85"/><circle cx="1821.3" cy="357.8" r="13.85"/><circle cx="1790.6" cy="339.7" r="13.85"/><circle cx="1860.4" cy="309" r="13.85"/><circle cx="1858.2" cy="330.8" r="13.85"/><circle cx="1935.2" cy="288.9" r="13.85"/><circle cx="2111.5" cy="330.5" r="13.85"/><circle cx="1891.6" cy="383.8" r="13.85"/><circle cx="1736.2" cy="359.2" r="13.85"/><circle cx="1750.2" cy="357.8" r="13.85"/><circle cx="1733.5" cy="383.8" r="13.85"/><circle cx="1753" cy="387.1" r="13.85"/><circle cx="1768.3" cy="388.5" r="13.85"/><circle cx="1656.7" cy="327.1" r="13.85"/><circle cx="1677.7" cy="323" r="13.85"/><circle cx="1697.2" cy="331.3" r="13.85"/><circle cx="1684.6" cy="345.3" r="13.85"/><circle cx="1708.3" cy="352.3" r="13.85"/><circle cx="1663.7" cy="363.4" r="13.85"/><circle cx="1681.8" cy="370.4" r="13.85"/><circle cx="1679.1" cy="387.1" r="13.85"/><circle cx="1665.1" cy="402.5" r="13.85"/><circle cx="1697.2" cy="409.4" r="13.85"/><circle cx="1667.9" cy="342.5" r="13.85"/><circle cx="1695.8" cy="357.8" r="13.85"/><circle cx="1670.7" cy="381.5" r="13.85"/><circle cx="1656.7" cy="345.3" r="13.85"/><circle cx="1690.2" cy="367.6" r="13.85"/><circle cx="1796.2" cy="328.5" r="13.85"/><circle cx="1807.4" cy="345.3" r="13.85"/><circle cx="1773.9" cy="339.7" r="13.85"/>
</g>
<path class="ax" d="M1314.9 442.3v14.0M1470.0 442.3v14.0M1625.0 442.3v14.0M1780.1 442.3v14.0M1935.1 442.3v14.0M2090.2 442.3v14.0M1192.5 429.8h-14.0M1192.5 264.6h-14.0M1192.5 99.5h-14.0"/>
<rect class="ax" x="1192.5" y="51.5" width="963.2" height="390.8"/>
<text class="tk" text-anchor="middle" x="1314.9" y="501.3">3.2</text>
<text class="tk" text-anchor="middle" x="1470.0" y="501.3">3.3</text>
<text class="tk" text-anchor="middle" x="1625.0" y="501.3">3.4</text>
<text class="tk" text-anchor="middle" x="1780.1" y="501.3">3.5</text>
<text class="tk" text-anchor="middle" x="1935.1" y="501.3">3.6</text>
<text class="tk" text-anchor="middle" x="2090.2" y="501.3">3.7</text>
<text class="lb" text-anchor="middle" x="1674.1" y="27.1">Unphased iHS score in ALPC vs. WHG ancestry</text>
<text class="lb" text-anchor="middle" x="1674.1" y="550.3">|Normalized iHS (unphased) score|</text>
<text class="lb" text-anchor="middle" transform="translate(1152.8 247.8) rotate(-90)">WHG ancestry</text>
<text class="lb" y="99.3"><tspan class="it" x="1674.1">r</tspan><tspan class="sub" x="1687.3" dy="4.7">s</tspan><tspan x="1705.6" dy="-4.7">=</tspan><tspan x="1739.1">0.03087</tspan><tspan class="it" x="1872.6">,</tspan><tspan class="it" x="1888.4">p</tspan><tspan x="1915.4">=</tspan><tspan x="1948.9">0.5035</tspan></text>
</g>
<g>
<g class="pt">
<circle cx="194.6" cy="867" r="13.85"/><circle cx="206.6" cy="867" r="13.85"/><circle cx="218.6" cy="867" r="13.85"/><circle cx="230.6" cy="867" r="13.85"/><circle cx="242.6" cy="867" r="13.85"/><circle cx="254.6" cy="867" r="13.85"/><circle cx="266.6" cy="867" r="13.85"/><circle cx="278.6" cy="867" r="13.85"/><circle cx="326.6" cy="867" r="13.85"/><circle cx="338.6" cy="867" r="13.85"/><circle cx="350.6" cy="867" r="13.85"/><circle cx="362.6" cy="867" r="13.85"/><circle cx="188.6" cy="877.4" r="13.85"/><circle cx="200.6" cy="877.4" r="13.85"/><circle cx="212.6" cy="877.4" r="13.85"/><circle cx="224.6" cy="877.4" r="13.85"/><circle cx="236.6" cy="877.4" r="13.85"/><circle cx="248.6" cy="877.4" r="13.85"/><circle cx="260.6" cy="877.4" r="13.85"/><circle cx="272.6" cy="877.4" r="13.85"/><circle cx="308.6" cy="877.4" r="13.85"/><circle cx="320.6" cy="877.4" r="13.85"/><circle cx="332.6" cy="877.4" r="13.85"/><circle cx="344.6" cy="877.4" r="13.85"/><circle cx="356.6" cy="877.4" r="13.85"/><circle cx="368.6" cy="877.4" r="13.85"/><circle cx="380.6" cy="877.4" r="13.85"/><circle cx="194.6" cy="887.7" r="13.85"/><circle cx="206.6" cy="887.7" r="13.85"/><circle cx="218.6" cy="887.7" r="13.85"/><circle cx="230.6" cy="887.7" r="13.85"/><circle cx="242.6" cy="887.7" r="13.85"/><circle cx="254.6" cy="887.7" r="13.85"/><circle cx="266.6" cy="887.7" r="13.85"/><circle cx="278.6" cy="887.7" r="13.85"/><circle cx="290.6" cy="887.7" r="13.85"/><circle cx="302.6" cy="887.7" r="13.85"/><circle cx="314.6" cy="887.7" r="13.85"/><circle cx="326.6" cy="887.7" r="13.85"/><circle cx="338.6" cy="887.7" r="13.85"/><circle cx="350.6" cy="887.7" r="13.85"/><circle cx="362.6" cy="887.7" r="13.85"/><circle cx="374.6" cy="887.7" r="13.85"/><circle cx="386.6" cy="887.7" r="13.85"/><circle cx="398.6" cy="887.7" r="13.85"/><circle cx="410.6" cy="887.7" r="13.85"/><circle cx="422.6" cy="887.7" r="13.85"/><circle cx="434.6" cy="887.7" r="13.85"/><circle cx="188.6" cy="898.1" r="13.85"/><circle cx="200.6" cy="898.1" r="13.85"/><circle cx="212.6" cy="898.1" r="13.85"/><circle cx="224.6" cy="898.1" r="13.85"/><circle cx="236.6" cy="898.1" r="13.85"/><circle cx="248.6" cy="898.1" r="13.85"/><circle cx="260.6" cy="898.1" r="13.85"/><circle cx="272.6" cy="898.1" r="13.85"/><circle cx="284.6" cy="898.1" r="13.85"/><circle cx="296.6" cy="898.1" r="13.85"/><circle cx="308.6" cy="898.1" r="13.85"/><circle cx="320.6" cy="898.1" r="13.85"/><circle cx="332.6" cy="898.1" r="13.85"/><circle cx="344.6" cy="898.1" r="13.85"/><circle cx="356.6" cy="898.1" r="13.85"/><circle cx="368.6" cy="898.1" r="13.85"/><circle cx="380.6" cy="898.1" r="13.85"/><circle cx="392.6" cy="898.1" r="13.85"/><circle cx="404.6" cy="898.1" r="13.85"/><circle cx="416.6" cy="898.1" r="13.85"/><circle cx="428.6" cy="898.1" r="13.85"/><circle cx="440.6" cy="898.1" r="13.85"/><circle cx="452.6" cy="898.1" r="13.85"/><circle cx="194.6" cy="908.5" r="13.85"/><circle cx="206.6" cy="908.5" r="13.85"/><circle cx="218.6" cy="908.5" r="13.85"/><circle cx="230.6" cy="908.5" r="13.85"/><circle cx="242.6" cy="908.5" r="13.85"/><circle cx="254.6" cy="908.5" r="13.85"/><circle cx="266.6" cy="908.5" r="13.85"/><circle cx="278.6" cy="908.5" r="13.85"/><circle cx="290.6" cy="908.5" r="13.85"/><circle cx="302.6" cy="908.5" r="13.85"/><circle cx="314.6" cy="908.5" r="13.85"/><circle cx="326.6" cy="908.5" r="13.85"/><circle cx="338.6" cy="908.5" r="13.85"/><circle cx="350.6" cy="908.5" r="13.85"/><circle cx="362.6" cy="908.5" r="13.85"/><circle cx="374.6" cy="908.5" r="13.85"/><circle cx="386.6" cy="908.5" r="13.85"/><circle cx="398.6" cy="908.5" r="13.85"/><circle cx="410.6" cy="908.5" r="13.85"/><circle cx="422.6" cy="908.5" r="13.85"/><circle cx="434.6" cy="908.5" r="13.85"/><circle cx="446.6" cy="908.5" r="13.85"/><circle cx="458.6" cy="908.5" r="13.85"/><circle cx="470.6" cy="908.5" r="13.85"/><circle cx="482.6" cy="908.5" r="13.85"/><circle cx="188.6" cy="918.9" r="13.85"/><circle cx="200.6" cy="918.9" r="13.85"/><circle cx="212.6" cy="918.9" r="13.85"/><circle cx="224.6" cy="918.9" r="13.85"/><circle cx="236.6" cy="918.9" r="13.85"/><circle cx="248.6" cy="918.9" r="13.85"/><circle cx="260.6" cy="918.9" r="13.85"/><circle cx="272.6" cy="918.9" r="13.85"/><circle cx="284.6" cy="918.9" r="13.85"/><circle cx="296.6" cy="918.9" r="13.85"/><circle cx="308.6" cy="918.9" r="13.85"/><circle cx="320.6" cy="918.9" r="13.85"/><circle cx="332.6" cy="918.9" r="13.85"/><circle cx="344.6" cy="918.9" r="13.85"/><circle cx="356.6" cy="918.9" r="13.85"/><circle cx="368.6" cy="918.9" r="13.85"/><circle cx="380.6" cy="918.9" r="13.85"/><circle cx="392.6" cy="918.9" r="13.85"/><circle cx="404.6" cy="918.9" r="13.85"/><circle cx="416.6" cy="918.9" r="13.85"/><circle cx="428.6" cy="918.9" r="13.85"/><circle cx="440.6" cy="918.9" r="13.85"/><circle cx="452.6" cy="918.9" r="13.85"/><circle cx="464.6" cy="918.9" r="13.85"/><circle cx="476.6" cy="918.9" r="13.85"/><circle cx="194.6" cy="929.3" r="13.85"/><circle cx="206.6" cy="929.3" r="13.85"/><circle cx="218.6" cy="929.3" r="13.85"/><circle cx="230.6" cy="929.3" r="13.85"/><circle cx="242.6" cy="929.3" r="13.85"/><circle cx="254.6" cy="929.3" r="13.85"/><circle cx="266.6" cy="929.3" r="13.85"/><circle cx="278.6" cy="929.3" r="13.85"/><circle cx="290.6" cy="929.3" r="13.85"/><circle cx="302.6" cy="929.3" r="13.85"/><circle cx="314.6" cy="929.3" r="13.85"/><circle cx="326.6" cy="929.3" r="13.85"/><circle cx="338.6" cy="929.3" r="13.85"/><circle cx="350.6" cy="929.3" r="13.85"/><circle cx="362.6" cy="929.3" r="13.85"/><circle cx="374.6" cy="929.3" r="13.85"/><circle cx="386.6" cy="929.3" r="13.85"/><circle cx="398.6" cy="929.3" r="13.85"/><circle cx="410.6" cy="929.3" r="13.85"/><circle cx="422.6" cy="929.3" r="13.85"/><circle cx="434.6" cy="929.3" r="13.85"/><circle cx="446.6" cy="929.3" r="13.85"/><circle cx="458.6" cy="929.3" r="13.85"/><circle cx="188.6" cy="939.7" r="13.85"/><circle cx="200.6" cy="939.7" r="13.85"/><circle cx="212.6" cy="939.7" r="13.85"/><circle cx="224.6" cy="939.7" r="13.85"/><circle cx="236.6" cy="939.7" r="13.85"/><circle cx="248.6" cy="939.7" r="13.85"/><circle cx="260.6" cy="939.7" r="13.85"/><circle cx="272.6" cy="939.7" r="13.85"/><circle cx="284.6" cy="939.7" r="13.85"/><circle cx="296.6" cy="939.7" r="13.85"/><circle cx="308.6" cy="939.7" r="13.85"/><circle cx="320.6" cy="939.7" r="13.85"/><circle cx="332.6" cy="939.7" r="13.85"/><circle cx="344.6" cy="939.7" r="13.85"/><circle cx="356.6" cy="939.7" r="13.85"/><circle cx="368.6" cy="939.7" r="13.85"/><circle cx="380.6" cy="939.7" r="13.85"/><circle cx="392.6" cy="939.7" r="13.85"/><circle cx="404.6" cy="939.7" r="13.85"/><circle cx="416.6" cy="939.7" r="13.85"/><circle cx="428.6" cy="939.7" r="13.85"/><circle cx="440.6" cy="939.7" r="13.85"/><circle cx="452.6" cy="939.7" r="13.85"/><circle cx="500.6" cy="939.7" r="13.85"/><circle cx="512.6" cy="939.7" r="13.85"/><circle cx="194.6" cy="950.1" r="13.85"/><circle cx="206.6" cy="950.1" r="13.85"/><circle cx="218.6" cy="950.1" r="13.85"/><circle cx="230.6" cy="950.1" r="13.85"/><circle cx="242.6" cy="950.1" r="13.85"/><circle cx="254.6" cy="950.1" r="13.85"/><circle cx="266.6" cy="950.1" r="13.85"/><circle cx="278.6" cy="950.1" r="13.85"/><circle cx="290.6" cy="950.1" r="13.85"/><circle cx="302.6" cy="950.1" r="13.85"/><circle cx="314.6" cy="950.1" r="13.85"/><circle cx="326.6" cy="950.1" r="13.85"/><circle cx="338.6" cy="950.1" r="13.85"/><circle cx="350.6" cy="950.1" r="13.85"/><circle cx="362.6" cy="950.1" r="13.85"/><circle cx="374.6" cy="950.1" r="13.85"/><circle cx="386.6" cy="950.1" r="13.85"/><circle cx="398.6" cy="950.1" r="13.85"/><circle cx="410.6" cy="950.1" r="13.85"/><circle cx="422.6" cy="950.1" r="13.85"/><circle cx="434.6" cy="950.1" r="13.85"/><circle cx="446.6" cy="950.1" r="13.85"/><circle cx="458.6" cy="950.1" r="13.85"/><circle cx="470.6" cy="950.1" r="13.85"/><circle cx="482.6" cy="950.1" r="13.85"/><circle cx="494.6" cy="950.1" r="13.85"/><circle cx="506.6" cy="950.1" r="13.85"/><circle cx="188.6" cy="960.5" r="13.85"/><circle cx="200.6" cy="960.5" r="13.85"/><circle cx="212.6" cy="960.5" r="13.85"/><circle cx="224.6" cy="960.5" r="13.85"/><circle cx="236.6" cy="960.5" r="13.85"/><circle cx="248.6" cy="960.5" r="13.85"/><circle cx="260.6" cy="960.5" r="13.85"/><circle cx="272.6" cy="960.5" r="13.85"/><circle cx="284.6" cy="960.5" r="13.85"/><circle cx="296.6" cy="960.5" r="13.85"/><circle cx="308.6" cy="960.5" r="13.85"/><circle cx="320.6" cy="960.5" r="13.85"/><circle cx="332.6" cy="960.5" r="13.85"/><circle cx="344.6" cy="960.5" r="13.85"/><circle cx="356.6" cy="960.5" r="13.85"/><circle cx="368.6" cy="960.5" r="13.85"/><circle cx="380.6" cy="960.5" r="13.85"/><circle cx="392.6" cy="960.5" r="13.85"/><circle cx="404.6" cy="960.5" r="13.85"/><circle cx="416.6" cy="960.5" r="13.85"/><circle cx="428.6" cy="960.5" r="13.85"/><circle cx="440.6" cy="960.5" r="13.85"/><circle cx="452.6" cy="960.5" r="13.85"/><circle cx="464.6" cy="960.5" r="13.85"/><circle cx="476.6" cy="960.5" r="13.85"/><circle cx="488.6" cy="960.5" r="13.85"/><circle cx="500.6" cy="960.5" r="13.85"/><circle cx="194.6" cy="970.9" r="13.85"/><circle cx="206.6" cy="970.9" r="13.85"/><circle cx="218.6" cy="970.9" r="13.85"/><circle cx="230.6" cy="970.9" r="13.85"/><circle cx="242.6" cy="970.9" r="13.85"/><circle cx="254.6" cy="970.9" r="13.85"/><circle cx="266.6" cy="970.9" r="13.85"/><circle cx="278.6" cy="970.9" r="13.85"/><circle cx="290.6" cy="970.9" r="13.85"/><circle cx="302.6" cy="970.9" r="13.85"/><circle cx="314.6" cy="970.9" r="13.85"/><circle cx="326.6" cy="970.9" r="13.85"/><circle cx="338.6" cy="970.9" r="13.85"/><circle cx="350.6" cy="970.9" r="13.85"/><circle cx="362.6" cy="970.9" r="13.85"/><circle cx="374.6" cy="970.9" r="13.85"/><circle cx="386.6" cy="970.9" r="13.85"/><circle cx="398.6" cy="970.9" r="13.85"/><circle cx="410.6" cy="970.9" r="13.85"/><circle cx="422.6" cy="970.9" r="13.85"/><circle cx="434.6" cy="970.9" r="13.85"/><circle cx="446.6" cy="970.9" r="13.85"/><circle cx="188.6" cy="981.3" r="13.85"/><circle cx="200.6" cy="981.3" r="13.85"/><circle cx="212.6" cy="981.3" r="13.85"/><circle cx="224.6" cy="981.3" r="13.85"/><circle cx="236.6" cy="981.3" r="13.85"/><circle cx="248.6" cy="981.3" r="13.85"/><circle cx="260.6" cy="981.3" r="13.85"/><circle cx="272.6" cy="981.3" r="13.85"/><circle cx="284.6" cy="981.3" r="13.85"/><circle cx="296.6" cy="981.3" r="13.85"/><circle cx="308.6" cy="981.3" r="13.85"/><circle cx="320.6" cy="981.3" r="13.85"/><circle cx="332.6" cy="981.3" r="13.85"/><circle cx="344.6" cy="981.3" r="13.85"/><circle cx="356.6" cy="981.3" r="13.85"/><circle cx="368.6" cy="981.3" r="13.85"/><circle cx="380.6" cy="981.3" r="13.85"/><circle cx="392.6" cy="981.3" r="13.85"/><circle cx="404.6" cy="981.3" r="13.85"/><circle cx="416.6" cy="981.3" r="13.85"/><circle cx="428.6" cy="981.3" r="13.85"/><circle cx="194.6" cy="991.7" r="13.85"/><circle cx="206.6" cy="991.7" r="13.85"/><circle cx="218.6" cy="991.7" r="13.85"/><circle cx="230.6" cy="991.7" r="13.85"/><circle cx="242.6" cy="991.7" r="13.85"/><circle cx="254.6" cy="991.7" r="13.85"/><circle cx="266.6" cy="991.7" r="13.85"/><circle cx="278.6" cy="991.7" r="13.85"/><circle cx="290.6" cy="991.7" r="13.85"/><circle cx="200.6" cy="1002.1" r="13.85"/><circle cx="212.6" cy="1002.1" r="13.85"/><circle cx="260.6" cy="1002.1" r="13.85"/><circle cx="272.6" cy="1002.1" r="13.85"/><circle cx="201.2" cy="833.1" r="13.85"/><circle cx="188.1" cy="859" r="13.85"/><circle cx="186.2" cy="889.2" r="13.85"/><circle cx="188.6" cy="914.5" r="13.85"/><circle cx="187.4" cy="937.4" r="13.85"/><circle cx="188.6" cy="970" r="13.85"/><circle cx="188.6" cy="984.5" r="13.85"/><circle cx="189.8" cy="1001.4" r="13.85"/><circle cx="257.4" cy="822.3" r="13.85"/><circle cx="242.9" cy="844" r="13.85"/><circle cx="268.3" cy="844" r="13.85"/><circle cx="281.6" cy="859" r="13.85"/><circle cx="224.8" cy="863.8" r="13.85"/><circle cx="205.5" cy="866.2" r="13.85"/><circle cx="320.2" cy="806.4" r="13.85"/><circle cx="319" cy="822.3" r="13.85"/><circle cx="314.2" cy="832.4" r="13.85"/><circle cx="335.9" cy="843.3" r="13.85"/><circle cx="360" cy="848.1" r="13.85"/><circle cx="328.6" cy="859" r="13.85"/><circle cx="373.3" cy="863.8" r="13.85"/><circle cx="306.4" cy="874.7" r="13.85"/><circle cx="393.8" cy="884.3" r="13.85"/><circle cx="412.7" cy="845.2" r="13.85"/><circle cx="463.8" cy="817.2" r="13.85"/><circle cx="432.9" cy="869.8" r="13.85"/><circle cx="427.6" cy="875.9" r="13.85"/><circle cx="446.9" cy="886.7" r="13.85"/><circle cx="480.7" cy="880.7" r="13.85"/><circle cx="502" cy="880.7" r="13.85"/><circle cx="474.7" cy="895.2" r="13.85"/><circle cx="488" cy="902.4" r="13.85"/><circle cx="516.2" cy="910.9" r="13.85"/><circle cx="538.2" cy="921.7" r="13.85"/><circle cx="473.5" cy="920.5" r="13.85"/><circle cx="512.1" cy="929" r="13.85"/><circle cx="517" cy="948.3" r="13.85"/><circle cx="510.9" cy="967.6" r="13.85"/><circle cx="502" cy="984.5" r="13.85"/><circle cx="483.2" cy="948.3" r="13.85"/><circle cx="456.6" cy="973.7" r="13.85"/><circle cx="463.8" cy="958" r="13.85"/><circle cx="430" cy="989.3" r="13.85"/><circle cx="409.5" cy="984.5" r="13.85"/><circle cx="386.6" cy="984.5" r="13.85"/><circle cx="366.1" cy="994.7" r="13.85"/><circle cx="328.6" cy="989.3" r="13.85"/><circle cx="316.6" cy="989.3" r="13.85"/><circle cx="274.8" cy="1005.5" r="13.85"/><circle cx="236.9" cy="1000.2" r="13.85"/><circle cx="199.5" cy="1005" r="13.85"/><circle cx="594.2" cy="921.7" r="13.85"/><circle cx="597.8" cy="938.6" r="13.85"/><circle cx="587" cy="958" r="13.85"/><circle cx="555.6" cy="958" r="13.85"/><circle cx="558" cy="984.5" r="13.85"/><circle cx="572.5" cy="989.3" r="13.85"/><circle cx="568.9" cy="972.4" r="13.85"/><circle cx="500.1" cy="916.9" r="13.85"/><circle cx="502.5" cy="938.6" r="13.85"/><circle cx="679.3" cy="906.1" r="13.85"/><circle cx="695.5" cy="900" r="13.85"/><circle cx="717.8" cy="890.2" r="13.85"/><circle cx="697.4" cy="927" r="13.85"/><circle cx="721.7" cy="937.6" r="13.85"/><circle cx="676.5" cy="948.2" r="13.85"/><circle cx="653.6" cy="985.1" r="13.85"/><circle cx="680.7" cy="985.1" r="13.85"/><circle cx="769.4" cy="885.2" r="13.85"/><circle cx="797.8" cy="895.8" r="13.85"/><circle cx="754" cy="932.1" r="13.85"/><circle cx="765.8" cy="936.2" r="13.85"/><circle cx="781.9" cy="941.8" r="13.85"/><circle cx="803.4" cy="932.1" r="13.85"/><circle cx="922" cy="900.5" r="13.85"/><circle cx="954.6" cy="895.8" r="13.85"/><circle cx="961" cy="853.4" r="13.85"/><circle cx="976.4" cy="864.5" r="13.85"/><circle cx="1062" cy="848.4" r="13.85"/><circle cx="1058.7" cy="932.6" r="13.85"/><circle cx="230.3" cy="650" r="13.85"/>
</g>
<path class="ax" d="M323.6 1022.9v14.0M531.3 1022.9v14.0M739.0 1022.9v14.0M946.7 1022.9v14.0M142.8 1010.4h-14.0M142.8 845.3h-14.0M142.8 680.1h-14.0"/>
<rect class="ax" x="142.8" y="632.1" width="963.4" height="390.8"/>
<text class="tk" text-anchor="middle" x="323.6" y="1081.9">4.0</text>
<text class="tk" text-anchor="middle" x="531.3" y="1081.9">4.5</text>
<text class="tk" text-anchor="middle" x="739.0" y="1081.9">5.0</text>
<text class="tk" text-anchor="middle" x="946.7" y="1081.9">5.5</text>
<text class="tk" text-anchor="end" x="114.0" y="1025.3">0.0</text>
<text class="tk" text-anchor="end" x="114.0" y="860.2">0.2</text>
<text class="tk" text-anchor="end" x="114.0" y="695.0">0.4</text>
<text class="lb" text-anchor="middle" x="624.5" y="607.7">nSL score in ALPC vs. WHG ancestry</text>
<text class="lb" text-anchor="middle" x="624.5" y="1130.9">|Normalized nSL score|</text>
<text class="lb" text-anchor="middle" transform="translate(26.4 828.4) rotate(-90)">WHG ancestry</text>
<text class="lb" y="679.9"><tspan class="it" x="624.4">r</tspan><tspan class="sub" x="637.7" dy="4.7">s</tspan><tspan x="655.9" dy="-4.7">=</tspan><tspan x="695.9">−</tspan><tspan x="729.4">0.008742</tspan><tspan class="it" x="883.5">,</tspan><tspan class="it" x="899.3">p</tspan><tspan x="926.2">=</tspan><tspan x="959.8">0.8152</tspan></text>
</g>
<g>
<g class="pt">
<circle cx="1279.4" cy="842.8" r="13.85"/><circle cx="1291.4" cy="842.8" r="13.85"/><circle cx="1303.4" cy="842.8" r="13.85"/><circle cx="1315.4" cy="842.8" r="13.85"/><circle cx="1327.4" cy="842.8" r="13.85"/><circle cx="1339.4" cy="842.8" r="13.85"/><circle cx="1261.4" cy="853.2" r="13.85"/><circle cx="1273.4" cy="853.2" r="13.85"/><circle cx="1285.4" cy="853.2" r="13.85"/><circle cx="1297.4" cy="853.2" r="13.85"/><circle cx="1309.4" cy="853.2" r="13.85"/><circle cx="1321.4" cy="853.2" r="13.85"/><circle cx="1333.4" cy="853.2" r="13.85"/><circle cx="1345.4" cy="853.2" r="13.85"/><circle cx="1357.4" cy="853.2" r="13.85"/><circle cx="1243.4" cy="863.6" r="13.85"/><circle cx="1255.4" cy="863.6" r="13.85"/><circle cx="1267.4" cy="863.6" r="13.85"/><circle cx="1279.4" cy="863.6" r="13.85"/><circle cx="1291.4" cy="863.6" r="13.85"/><circle cx="1303.4" cy="863.6" r="13.85"/><circle cx="1315.4" cy="863.6" r="13.85"/><circle cx="1327.4" cy="863.6" r="13.85"/><circle cx="1339.4" cy="863.6" r="13.85"/><circle cx="1351.4" cy="863.6" r="13.85"/><circle cx="1363.4" cy="863.6" r="13.85"/><circle cx="1375.4" cy="863.6" r="13.85"/><circle cx="1387.4" cy="863.6" r="13.85"/><circle cx="1399.4" cy="863.6" r="13.85"/><circle cx="1411.4" cy="863.6" r="13.85"/><circle cx="1423.4" cy="863.6" r="13.85"/><circle cx="1237.4" cy="874" r="13.85"/><circle cx="1249.4" cy="874" r="13.85"/><circle cx="1261.4" cy="874" r="13.85"/><circle cx="1273.4" cy="874" r="13.85"/><circle cx="1285.4" cy="874" r="13.85"/><circle cx="1297.4" cy="874" r="13.85"/><circle cx="1309.4" cy="874" r="13.85"/><circle cx="1321.4" cy="874" r="13.85"/><circle cx="1333.4" cy="874" r="13.85"/><circle cx="1345.4" cy="874" r="13.85"/><circle cx="1357.4" cy="874" r="13.85"/><circle cx="1369.4" cy="874" r="13.85"/><circle cx="1381.4" cy="874" r="13.85"/><circle cx="1393.4" cy="874" r="13.85"/><circle cx="1405.4" cy="874" r="13.85"/><circle cx="1417.4" cy="874" r="13.85"/><circle cx="1429.4" cy="874" r="13.85"/><circle cx="1441.4" cy="874" r="13.85"/><circle cx="1453.4" cy="874" r="13.85"/><circle cx="1243.4" cy="884.4" r="13.85"/><circle cx="1255.4" cy="884.4" r="13.85"/><circle cx="1267.4" cy="884.4" r="13.85"/><circle cx="1279.4" cy="884.4" r="13.85"/><circle cx="1291.4" cy="884.4" r="13.85"/><circle cx="1303.4" cy="884.4" r="13.85"/><circle cx="1315.4" cy="884.4" r="13.85"/><circle cx="1327.4" cy="884.4" r="13.85"/><circle cx="1339.4" cy="884.4" r="13.85"/><circle cx="1351.4" cy="884.4" r="13.85"/><circle cx="1363.4" cy="884.4" r="13.85"/><circle cx="1375.4" cy="884.4" r="13.85"/><circle cx="1387.4" cy="884.4" r="13.85"/><circle cx="1399.4" cy="884.4" r="13.85"/><circle cx="1411.4" cy="884.4" r="13.85"/><circle cx="1423.4" cy="884.4" r="13.85"/><circle cx="1435.4" cy="884.4" r="13.85"/><circle cx="1447.4" cy="884.4" r="13.85"/><circle cx="1459.4" cy="884.4" r="13.85"/><circle cx="1237.4" cy="894.8" r="13.85"/><circle cx="1249.4" cy="894.8" r="13.85"/><circle cx="1261.4" cy="894.8" r="13.85"/><circle cx="1273.4" cy="894.8" r="13.85"/><circle cx="1285.4" cy="894.8" r="13.85"/><circle cx="1297.4" cy="894.8" r="13.85"/><circle cx="1309.4" cy="894.8" r="13.85"/><circle cx="1321.4" cy="894.8" r="13.85"/><circle cx="1333.4" cy="894.8" r="13.85"/><circle cx="1345.4" cy="894.8" r="13.85"/><circle cx="1357.4" cy="894.8" r="13.85"/><circle cx="1369.4" cy="894.8" r="13.85"/><circle cx="1381.4" cy="894.8" r="13.85"/><circle cx="1393.4" cy="894.8" r="13.85"/><circle cx="1405.4" cy="894.8" r="13.85"/><circle cx="1417.4" cy="894.8" r="13.85"/><circle cx="1429.4" cy="894.8" r="13.85"/><circle cx="1441.4" cy="894.8" r="13.85"/><circle cx="1453.4" cy="894.8" r="13.85"/><circle cx="1465.4" cy="894.8" r="13.85"/><circle cx="1477.4" cy="894.8" r="13.85"/><circle cx="1243.4" cy="905.2" r="13.85"/><circle cx="1255.4" cy="905.2" r="13.85"/><circle cx="1267.4" cy="905.2" r="13.85"/><circle cx="1279.4" cy="905.2" r="13.85"/><circle cx="1291.4" cy="905.2" r="13.85"/><circle cx="1303.4" cy="905.2" r="13.85"/><circle cx="1315.4" cy="905.2" r="13.85"/><circle cx="1327.4" cy="905.2" r="13.85"/><circle cx="1339.4" cy="905.2" r="13.85"/><circle cx="1351.4" cy="905.2" r="13.85"/><circle cx="1363.4" cy="905.2" r="13.85"/><circle cx="1375.4" cy="905.2" r="13.85"/><circle cx="1387.4" cy="905.2" r="13.85"/><circle cx="1399.4" cy="905.2" r="13.85"/><circle cx="1411.4" cy="905.2" r="13.85"/><circle cx="1423.4" cy="905.2" r="13.85"/><circle cx="1435.4" cy="905.2" r="13.85"/><circle cx="1447.4" cy="905.2" r="13.85"/><circle cx="1459.4" cy="905.2" r="13.85"/><circle cx="1471.4" cy="905.2" r="13.85"/><circle cx="1483.4" cy="905.2" r="13.85"/><circle cx="1495.4" cy="905.2" r="13.85"/><circle cx="1507.4" cy="905.2" r="13.85"/><circle cx="1237.4" cy="915.6" r="13.85"/><circle cx="1249.4" cy="915.6" r="13.85"/><circle cx="1261.4" cy="915.6" r="13.85"/><circle cx="1273.4" cy="915.6" r="13.85"/><circle cx="1285.4" cy="915.6" r="13.85"/><circle cx="1297.4" cy="915.6" r="13.85"/><circle cx="1309.4" cy="915.6" r="13.85"/><circle cx="1321.4" cy="915.6" r="13.85"/><circle cx="1333.4" cy="915.6" r="13.85"/><circle cx="1345.4" cy="915.6" r="13.85"/><circle cx="1357.4" cy="915.6" r="13.85"/><circle cx="1369.4" cy="915.6" r="13.85"/><circle cx="1381.4" cy="915.6" r="13.85"/><circle cx="1393.4" cy="915.6" r="13.85"/><circle cx="1405.4" cy="915.6" r="13.85"/><circle cx="1417.4" cy="915.6" r="13.85"/><circle cx="1429.4" cy="915.6" r="13.85"/><circle cx="1441.4" cy="915.6" r="13.85"/><circle cx="1453.4" cy="915.6" r="13.85"/><circle cx="1465.4" cy="915.6" r="13.85"/><circle cx="1477.4" cy="915.6" r="13.85"/><circle cx="1489.4" cy="915.6" r="13.85"/><circle cx="1501.4" cy="915.6" r="13.85"/><circle cx="1513.4" cy="915.6" r="13.85"/><circle cx="1525.4" cy="915.6" r="13.85"/><circle cx="1537.4" cy="915.6" r="13.85"/><circle cx="1549.4" cy="915.6" r="13.85"/><circle cx="1561.4" cy="915.6" r="13.85"/><circle cx="1573.4" cy="915.6" r="13.85"/><circle cx="1585.4" cy="915.6" r="13.85"/><circle cx="1597.4" cy="915.6" r="13.85"/><circle cx="1609.4" cy="915.6" r="13.85"/><circle cx="1243.4" cy="926" r="13.85"/><circle cx="1255.4" cy="926" r="13.85"/><circle cx="1267.4" cy="926" r="13.85"/><circle cx="1279.4" cy="926" r="13.85"/><circle cx="1291.4" cy="926" r="13.85"/><circle cx="1303.4" cy="926" r="13.85"/><circle cx="1315.4" cy="926" r="13.85"/><circle cx="1327.4" cy="926" r="13.85"/><circle cx="1339.4" cy="926" r="13.85"/><circle cx="1351.4" cy="926" r="13.85"/><circle cx="1363.4" cy="926" r="13.85"/><circle cx="1375.4" cy="926" r="13.85"/><circle cx="1387.4" cy="926" r="13.85"/><circle cx="1399.4" cy="926" r="13.85"/><circle cx="1411.4" cy="926" r="13.85"/><circle cx="1423.4" cy="926" r="13.85"/><circle cx="1435.4" cy="926" r="13.85"/><circle cx="1447.4" cy="926" r="13.85"/><circle cx="1459.4" cy="926" r="13.85"/><circle cx="1471.4" cy="926" r="13.85"/><circle cx="1483.4" cy="926" r="13.85"/><circle cx="1495.4" cy="926" r="13.85"/><circle cx="1507.4" cy="926" r="13.85"/><circle cx="1519.4" cy="926" r="13.85"/><circle cx="1531.4" cy="926" r="13.85"/><circle cx="1543.4" cy="926" r="13.85"/><circle cx="1555.4" cy="926" r="13.85"/><circle cx="1567.4" cy="926" r="13.85"/><circle cx="1579.4" cy="926" r="13.85"/><circle cx="1591.4" cy="926" r="13.85"/><circle cx="1603.4" cy="926" r="13.85"/><circle cx="1615.4" cy="926" r="13.85"/><circle cx="1237.4" cy="936.3" r="13.85"/><circle cx="1249.4" cy="936.3" r="13.85"/><circle cx="1261.4" cy="936.3" r="13.85"/><circle cx="1273.4" cy="936.3" r="13.85"/><circle cx="1285.4" cy="936.3" r="13.85"/><circle cx="1297.4" cy="936.3" r="13.85"/><circle cx="1309.4" cy="936.3" r="13.85"/><circle cx="1321.4" cy="936.3" r="13.85"/><circle cx="1333.4" cy="936.3" r="13.85"/><circle cx="1345.4" cy="936.3" r="13.85"/><circle cx="1357.4" cy="936.3" r="13.85"/><circle cx="1369.4" cy="936.3" r="13.85"/><circle cx="1381.4" cy="936.3" r="13.85"/><circle cx="1393.4" cy="936.3" r="13.85"/><circle cx="1405.4" cy="936.3" r="13.85"/><circle cx="1417.4" cy="936.3" r="13.85"/><circle cx="1429.4" cy="936.3" r="13.85"/><circle cx="1441.4" cy="936.3" r="13.85"/><circle cx="1453.4" cy="936.3" r="13.85"/><circle cx="1465.4" cy="936.3" r="13.85"/><circle cx="1477.4" cy="936.3" r="13.85"/><circle cx="1489.4" cy="936.3" r="13.85"/><circle cx="1501.4" cy="936.3" r="13.85"/><circle cx="1513.4" cy="936.3" r="13.85"/><circle cx="1525.4" cy="936.3" r="13.85"/><circle cx="1537.4" cy="936.3" r="13.85"/><circle cx="1549.4" cy="936.3" r="13.85"/><circle cx="1561.4" cy="936.3" r="13.85"/><circle cx="1573.4" cy="936.3" r="13.85"/><circle cx="1585.4" cy="936.3" r="13.85"/><circle cx="1597.4" cy="936.3" r="13.85"/><circle cx="1609.4" cy="936.3" r="13.85"/><circle cx="1243.4" cy="946.7" r="13.85"/><circle cx="1255.4" cy="946.7" r="13.85"/><circle cx="1267.4" cy="946.7" r="13.85"/><circle cx="1279.4" cy="946.7" r="13.85"/><circle cx="1291.4" cy="946.7" r="13.85"/><circle cx="1303.4" cy="946.7" r="13.85"/><circle cx="1315.4" cy="946.7" r="13.85"/><circle cx="1327.4" cy="946.7" r="13.85"/><circle cx="1339.4" cy="946.7" r="13.85"/><circle cx="1351.4" cy="946.7" r="13.85"/><circle cx="1363.4" cy="946.7" r="13.85"/><circle cx="1375.4" cy="946.7" r="13.85"/><circle cx="1387.4" cy="946.7" r="13.85"/><circle cx="1399.4" cy="946.7" r="13.85"/><circle cx="1411.4" cy="946.7" r="13.85"/><circle cx="1423.4" cy="946.7" r="13.85"/><circle cx="1435.4" cy="946.7" r="13.85"/><circle cx="1447.4" cy="946.7" r="13.85"/><circle cx="1459.4" cy="946.7" r="13.85"/><circle cx="1471.4" cy="946.7" r="13.85"/><circle cx="1483.4" cy="946.7" r="13.85"/><circle cx="1495.4" cy="946.7" r="13.85"/><circle cx="1507.4" cy="946.7" r="13.85"/><circle cx="1519.4" cy="946.7" r="13.85"/><circle cx="1531.4" cy="946.7" r="13.85"/><circle cx="1543.4" cy="946.7" r="13.85"/><circle cx="1555.4" cy="946.7" r="13.85"/><circle cx="1567.4" cy="946.7" r="13.85"/><circle cx="1579.4" cy="946.7" r="13.85"/><circle cx="1591.4" cy="946.7" r="13.85"/><circle cx="1237.4" cy="957.1" r="13.85"/><circle cx="1249.4" cy="957.1" r="13.85"/><circle cx="1261.4" cy="957.1" r="13.85"/><circle cx="1273.4" cy="957.1" r="13.85"/><circle cx="1285.4" cy="957.1" r="13.85"/><circle cx="1297.4" cy="957.1" r="13.85"/><circle cx="1309.4" cy="957.1" r="13.85"/><circle cx="1321.4" cy="957.1" r="13.85"/><circle cx="1333.4" cy="957.1" r="13.85"/><circle cx="1345.4" cy="957.1" r="13.85"/><circle cx="1357.4" cy="957.1" r="13.85"/><circle cx="1369.4" cy="957.1" r="13.85"/><circle cx="1381.4" cy="957.1" r="13.85"/><circle cx="1393.4" cy="957.1" r="13.85"/><circle cx="1405.4" cy="957.1" r="13.85"/><circle cx="1417.4" cy="957.1" r="13.85"/><circle cx="1429.4" cy="957.1" r="13.85"/><circle cx="1441.4" cy="957.1" r="13.85"/><circle cx="1453.4" cy="957.1" r="13.85"/><circle cx="1465.4" cy="957.1" r="13.85"/><circle cx="1477.4" cy="957.1" r="13.85"/><circle cx="1501.4" cy="957.1" r="13.85"/><circle cx="1537.4" cy="957.1" r="13.85"/><circle cx="1549.4" cy="957.1" r="13.85"/><circle cx="1561.4" cy="957.1" r="13.85"/><circle cx="1573.4" cy="957.1" r="13.85"/><circle cx="1243.4" cy="967.5" r="13.85"/><circle cx="1255.4" cy="967.5" r="13.85"/><circle cx="1267.4" cy="967.5" r="13.85"/><circle cx="1279.4" cy="967.5" r="13.85"/><circle cx="1291.4" cy="967.5" r="13.85"/><circle cx="1303.4" cy="967.5" r="13.85"/><circle cx="1315.4" cy="967.5" r="13.85"/><circle cx="1327.4" cy="967.5" r="13.85"/><circle cx="1339.4" cy="967.5" r="13.85"/><circle cx="1351.4" cy="967.5" r="13.85"/><circle cx="1363.4" cy="967.5" r="13.85"/><circle cx="1375.4" cy="967.5" r="13.85"/><circle cx="1387.4" cy="967.5" r="13.85"/><circle cx="1399.4" cy="967.5" r="13.85"/><circle cx="1411.4" cy="967.5" r="13.85"/><circle cx="1423.4" cy="967.5" r="13.85"/><circle cx="1435.4" cy="967.5" r="13.85"/><circle cx="1447.4" cy="967.5" r="13.85"/><circle cx="1459.4" cy="967.5" r="13.85"/><circle cx="1471.4" cy="967.5" r="13.85"/><circle cx="1543.4" cy="967.5" r="13.85"/><circle cx="1249.4" cy="977.9" r="13.85"/><circle cx="1261.4" cy="977.9" r="13.85"/><circle cx="1273.4" cy="977.9" r="13.85"/><circle cx="1285.4" cy="977.9" r="13.85"/><circle cx="1297.4" cy="977.9" r="13.85"/><circle cx="1309.4" cy="977.9" r="13.85"/><circle cx="1321.4" cy="977.9" r="13.85"/><circle cx="1333.4" cy="977.9" r="13.85"/><circle cx="1345.4" cy="977.9" r="13.85"/><circle cx="1357.4" cy="977.9" r="13.85"/><circle cx="1369.4" cy="977.9" r="13.85"/><circle cx="1381.4" cy="977.9" r="13.85"/><circle cx="1393.4" cy="977.9" r="13.85"/><circle cx="1405.4" cy="977.9" r="13.85"/><circle cx="1417.4" cy="977.9" r="13.85"/><circle cx="1429.4" cy="977.9" r="13.85"/><circle cx="1441.4" cy="977.9" r="13.85"/><circle cx="1453.4" cy="977.9" r="13.85"/><circle cx="1465.4" cy="977.9" r="13.85"/><circle cx="1477.4" cy="977.9" r="13.85"/><circle cx="1513.4" cy="977.9" r="13.85"/><circle cx="1525.4" cy="977.9" r="13.85"/><circle cx="1267.4" cy="988.3" r="13.85"/><circle cx="1279.4" cy="988.3" r="13.85"/><circle cx="1291.4" cy="988.3" r="13.85"/><circle cx="1471.4" cy="988.3" r="13.85"/><circle cx="1241" cy="855.4" r="13.85"/><circle cx="1238.1" cy="866.2" r="13.85"/><circle cx="1237.4" cy="900" r="13.85"/><circle cx="1237.4" cy="916.9" r="13.85"/><circle cx="1237.4" cy="938.6" r="13.85"/><circle cx="1237.4" cy="962.8" r="13.85"/><circle cx="1242.2" cy="984.5" r="13.85"/><circle cx="1270" cy="995.4" r="13.85"/><circle cx="1277.3" cy="995.4" r="13.85"/><circle cx="1291.3" cy="817.5" r="13.85"/><circle cx="1277.3" cy="832.4" r="13.85"/><circle cx="1260.4" cy="849.3" r="13.85"/><circle cx="1331.6" cy="822.3" r="13.85"/><circle cx="1311.1" cy="834.8" r="13.85"/><circle cx="1344.8" cy="842.1" r="13.85"/><circle cx="1371.9" cy="836" r="13.85"/><circle cx="1369" cy="861.4" r="13.85"/><circle cx="1410" cy="817.5" r="13.85"/><circle cx="1411.2" cy="832.4" r="13.85"/><circle cx="1426.9" cy="839.7" r="13.85"/><circle cx="1441.4" cy="837.3" r="13.85"/><circle cx="1417.3" cy="861.4" r="13.85"/><circle cx="1443.8" cy="868.6" r="13.85"/><circle cx="1456.4" cy="796.2" r="13.85"/><circle cx="1452.3" cy="807.1" r="13.85"/><circle cx="1472.8" cy="822.8" r="13.85"/><circle cx="1495.7" cy="817.5" r="13.85"/><circle cx="1474" cy="834.8" r="13.85"/><circle cx="1466.8" cy="849.3" r="13.85"/><circle cx="1480" cy="861.4" r="13.85"/><circle cx="1477.6" cy="871.1" r="13.85"/><circle cx="1503" cy="843.3" r="13.85"/><circle cx="1511.4" cy="859" r="13.85"/><circle cx="1523.5" cy="854.2" r="13.85"/><circle cx="1536.8" cy="848.1" r="13.85"/><circle cx="1577.1" cy="832.4" r="13.85"/><circle cx="1559.7" cy="868.6" r="13.85"/><circle cx="1579" cy="868.6" r="13.85"/><circle cx="1582.6" cy="875.9" r="13.85"/><circle cx="1506.6" cy="885.5" r="13.85"/><circle cx="1523.5" cy="895.2" r="13.85"/><circle cx="1487.3" cy="897.6" r="13.85"/><circle cx="1623.7" cy="873.5" r="13.85"/><circle cx="1605.6" cy="885.5" r="13.85"/><circle cx="1639.4" cy="890.4" r="13.85"/><circle cx="1624.9" cy="902.4" r="13.85"/><circle cx="1557.3" cy="885.5" r="13.85"/><circle cx="1571.8" cy="895.2" r="13.85"/><circle cx="1586.3" cy="904.8" r="13.85"/><circle cx="1301.4" cy="984.5" r="13.85"/><circle cx="1320.7" cy="984.5" r="13.85"/><circle cx="1340" cy="989.3" r="13.85"/><circle cx="1347.3" cy="990.6" r="13.85"/><circle cx="1369" cy="974.9" r="13.85"/><circle cx="1391.9" cy="990.6" r="13.85"/><circle cx="1410" cy="977.3" r="13.85"/><circle cx="1430.6" cy="990.6" r="13.85"/><circle cx="1451.1" cy="985.7" r="13.85"/><circle cx="1481.2" cy="995.4" r="13.85"/><circle cx="1493.3" cy="984.5" r="13.85"/><circle cx="1513.8" cy="984.5" r="13.85"/><circle cx="1533.2" cy="974.9" r="13.85"/><circle cx="1561.6" cy="974.9" r="13.85"/><circle cx="1576.6" cy="962.8" r="13.85"/><circle cx="1620.1" cy="985.7" r="13.85"/><circle cx="1639.4" cy="973.7" r="13.85"/><circle cx="1610.4" cy="960.4" r="13.85"/><circle cx="1634.5" cy="943.5" r="13.85"/><circle cx="1624.9" cy="953.1" r="13.85"/><circle cx="1741" cy="853" r="13.85"/><circle cx="1749.4" cy="864.7" r="13.85"/><circle cx="1845.9" cy="896.2" r="13.85"/><circle cx="1886.9" cy="921.9" r="13.85"/><circle cx="1866.5" cy="948.7" r="13.85"/><circle cx="1907.8" cy="953.4" r="13.85"/><circle cx="1952.4" cy="937.5" r="13.85"/><circle cx="1922.6" cy="985" r="13.85"/><circle cx="2112" cy="853.8" r="13.85"/><circle cx="1785.1" cy="974.4" r="13.85"/><circle cx="1775.9" cy="901" r="13.85"/><circle cx="1748.2" cy="901" r="13.85"/><circle cx="1700" cy="901" r="13.85"/><circle cx="1723.7" cy="910.2" r="13.85"/><circle cx="1757.2" cy="922.7" r="13.85"/><circle cx="1679.1" cy="921.9" r="13.85"/><circle cx="1773.9" cy="936.7" r="13.85"/><circle cx="1771.1" cy="947.9" r="13.85"/><circle cx="1757.2" cy="963.2" r="13.85"/><circle cx="1720.9" cy="964.6" r="13.85"/><circle cx="1729.3" cy="950.6" r="13.85"/><circle cx="1707" cy="945.1" r="13.85"/><circle cx="1679.1" cy="952" r="13.85"/><circle cx="1658.1" cy="947.9" r="13.85"/><circle cx="1658.1" cy="936.7" r="13.85"/><circle cx="1642.8" cy="939.5" r="13.85"/><circle cx="1751.6" cy="939.5" r="13.85"/><circle cx="1718.1" cy="931.1" r="13.85"/><circle cx="1648.4" cy="906" r="13.85"/><circle cx="1278" cy="660.5" r="13.85"/><circle cx="1321" cy="686" r="13.85"/><circle cx="1700" cy="920" r="13.85"/><circle cx="1666.5" cy="933.9" r="13.85"/><circle cx="1704.2" cy="957.6" r="13.85"/><circle cx="1741.8" cy="953.4" r="13.85"/><circle cx="1537.3" cy="862.2" r="13.85"/><circle cx="1552.7" cy="897" r="13.85"/><circle cx="1485.8" cy="878.9" r="13.85"/>
</g>
<path class="ax" d="M1291.0 1022.9v14.0M1454.6 1022.9v14.0M1618.2 1022.9v14.0M1781.8 1022.9v14.0M1945.4 1022.9v14.0M2109.0 1022.9v14.0M1192.5 1010.4h-14.0M1192.5 845.3h-14.0M1192.5 680.1h-14.0"/>
<rect class="ax" x="1192.5" y="632.1" width="963.2" height="390.8"/>
<text class="tk" text-anchor="middle" x="1291.0" y="1081.9">3.25</text>
<text class="tk" text-anchor="middle" x="1454.6" y="1081.9">3.50</text>
<text class="tk" text-anchor="middle" x="1618.2" y="1081.9">3.75</text>
<text class="tk" text-anchor="middle" x="1781.8" y="1081.9">4.00</text>
<text class="tk" text-anchor="middle" x="1945.4" y="1081.9">4.25</text>
<text class="tk" text-anchor="middle" x="2109.0" y="1081.9">4.50</text>
<text class="lb" text-anchor="middle" x="1674.1" y="607.7">Unphased nSL score in ALPC vs. WHG ancestry</text>
<text class="lb" text-anchor="middle" x="1674.1" y="1130.9">|Normalized nSL (unphased) score|</text>
<text class="lb" text-anchor="middle" transform="translate(1152.8 828.4) rotate(-90)">WHG ancestry</text>
<text class="lb" y="679.9"><tspan class="it" x="1674.1">r</tspan><tspan class="sub" x="1687.3" dy="4.7">s</tspan><tspan x="1705.6" dy="-4.7">=</tspan><tspan x="1739.1">0.02073</tspan><tspan class="it" x="1872.6">,</tspan><tspan class="it" x="1888.4">p</tspan><tspan x="1915.4">=</tspan><tspan x="1948.9">0.5311</tspan></text>
</g>
<g>
<g class="pt">
<circle cx="228.7" cy="1430.1" r="13.85"/><circle cx="240.7" cy="1430.1" r="13.85"/><circle cx="252.7" cy="1430.1" r="13.85"/><circle cx="264.7" cy="1430.1" r="13.85"/><circle cx="276.7" cy="1430.1" r="13.85"/><circle cx="288.7" cy="1430.1" r="13.85"/><circle cx="300.7" cy="1430.1" r="13.85"/><circle cx="198.7" cy="1440.5" r="13.85"/><circle cx="210.7" cy="1440.5" r="13.85"/><circle cx="222.7" cy="1440.5" r="13.85"/><circle cx="234.7" cy="1440.5" r="13.85"/><circle cx="246.7" cy="1440.5" r="13.85"/><circle cx="258.7" cy="1440.5" r="13.85"/><circle cx="270.7" cy="1440.5" r="13.85"/><circle cx="282.7" cy="1440.5" r="13.85"/><circle cx="294.7" cy="1440.5" r="13.85"/><circle cx="306.7" cy="1440.5" r="13.85"/><circle cx="318.7" cy="1440.5" r="13.85"/><circle cx="192.7" cy="1450.8" r="13.85"/><circle cx="204.7" cy="1450.8" r="13.85"/><circle cx="216.7" cy="1450.8" r="13.85"/><circle cx="228.7" cy="1450.8" r="13.85"/><circle cx="240.7" cy="1450.8" r="13.85"/><circle cx="252.7" cy="1450.8" r="13.85"/><circle cx="264.7" cy="1450.8" r="13.85"/><circle cx="276.7" cy="1450.8" r="13.85"/><circle cx="288.7" cy="1450.8" r="13.85"/><circle cx="300.7" cy="1450.8" r="13.85"/><circle cx="312.7" cy="1450.8" r="13.85"/><circle cx="324.7" cy="1450.8" r="13.85"/><circle cx="336.7" cy="1450.8" r="13.85"/><circle cx="186.7" cy="1461.2" r="13.85"/><circle cx="198.7" cy="1461.2" r="13.85"/><circle cx="210.7" cy="1461.2" r="13.85"/><circle cx="222.7" cy="1461.2" r="13.85"/><circle cx="234.7" cy="1461.2" r="13.85"/><circle cx="246.7" cy="1461.2" r="13.85"/><circle cx="258.7" cy="1461.2" r="13.85"/><circle cx="270.7" cy="1461.2" r="13.85"/><circle cx="282.7" cy="1461.2" r="13.85"/><circle cx="294.7" cy="1461.2" r="13.85"/><circle cx="306.7" cy="1461.2" r="13.85"/><circle cx="318.7" cy="1461.2" r="13.85"/><circle cx="330.7" cy="1461.2" r="13.85"/><circle cx="342.7" cy="1461.2" r="13.85"/><circle cx="192.7" cy="1471.6" r="13.85"/><circle cx="204.7" cy="1471.6" r="13.85"/><circle cx="216.7" cy="1471.6" r="13.85"/><circle cx="228.7" cy="1471.6" r="13.85"/><circle cx="240.7" cy="1471.6" r="13.85"/><circle cx="252.7" cy="1471.6" r="13.85"/><circle cx="264.7" cy="1471.6" r="13.85"/><circle cx="276.7" cy="1471.6" r="13.85"/><circle cx="288.7" cy="1471.6" r="13.85"/><circle cx="300.7" cy="1471.6" r="13.85"/><circle cx="312.7" cy="1471.6" r="13.85"/><circle cx="324.7" cy="1471.6" r="13.85"/><circle cx="336.7" cy="1471.6" r="13.85"/><circle cx="348.7" cy="1471.6" r="13.85"/><circle cx="360.7" cy="1471.6" r="13.85"/><circle cx="186.7" cy="1482" r="13.85"/><circle cx="198.7" cy="1482" r="13.85"/><circle cx="210.7" cy="1482" r="13.85"/><circle cx="222.7" cy="1482" r="13.85"/><circle cx="234.7" cy="1482" r="13.85"/><circle cx="246.7" cy="1482" r="13.85"/><circle cx="258.7" cy="1482" r="13.85"/><circle cx="270.7" cy="1482" r="13.85"/><circle cx="282.7" cy="1482" r="13.85"/><circle cx="294.7" cy="1482" r="13.85"/><circle cx="306.7" cy="1482" r="13.85"/><circle cx="318.7" cy="1482" r="13.85"/><circle cx="330.7" cy="1482" r="13.85"/><circle cx="342.7" cy="1482" r="13.85"/><circle cx="354.7" cy="1482" r="13.85"/><circle cx="366.7" cy="1482" r="13.85"/><circle cx="192.7" cy="1492.4" r="13.85"/><circle cx="204.7" cy="1492.4" r="13.85"/><circle cx="216.7" cy="1492.4" r="13.85"/><circle cx="228.7" cy="1492.4" r="13.85"/><circle cx="240.7" cy="1492.4" r="13.85"/><circle cx="252.7" cy="1492.4" r="13.85"/><circle cx="264.7" cy="1492.4" r="13.85"/><circle cx="276.7" cy="1492.4" r="13.85"/><circle cx="288.7" cy="1492.4" r="13.85"/><circle cx="300.7" cy="1492.4" r="13.85"/><circle cx="312.7" cy="1492.4" r="13.85"/><circle cx="324.7" cy="1492.4" r="13.85"/><circle cx="336.7" cy="1492.4" r="13.85"/><circle cx="348.7" cy="1492.4" r="13.85"/><circle cx="360.7" cy="1492.4" r="13.85"/><circle cx="186.7" cy="1502.8" r="13.85"/><circle cx="198.7" cy="1502.8" r="13.85"/><circle cx="210.7" cy="1502.8" r="13.85"/><circle cx="222.7" cy="1502.8" r="13.85"/><circle cx="234.7" cy="1502.8" r="13.85"/><circle cx="246.7" cy="1502.8" r="13.85"/><circle cx="258.7" cy="1502.8" r="13.85"/><circle cx="270.7" cy="1502.8" r="13.85"/><circle cx="282.7" cy="1502.8" r="13.85"/><circle cx="294.7" cy="1502.8" r="13.85"/><circle cx="306.7" cy="1502.8" r="13.85"/><circle cx="318.7" cy="1502.8" r="13.85"/><circle cx="330.7" cy="1502.8" r="13.85"/><circle cx="342.7" cy="1502.8" r="13.85"/><circle cx="354.7" cy="1502.8" r="13.85"/><circle cx="192.7" cy="1513.2" r="13.85"/><circle cx="204.7" cy="1513.2" r="13.85"/><circle cx="216.7" cy="1513.2" r="13.85"/><circle cx="228.7" cy="1513.2" r="13.85"/><circle cx="240.7" cy="1513.2" r="13.85"/><circle cx="252.7" cy="1513.2" r="13.85"/><circle cx="264.7" cy="1513.2" r="13.85"/><circle cx="276.7" cy="1513.2" r="13.85"/><circle cx="288.7" cy="1513.2" r="13.85"/><circle cx="300.7" cy="1513.2" r="13.85"/><circle cx="312.7" cy="1513.2" r="13.85"/><circle cx="324.7" cy="1513.2" r="13.85"/><circle cx="336.7" cy="1513.2" r="13.85"/><circle cx="348.7" cy="1513.2" r="13.85"/><circle cx="360.7" cy="1513.2" r="13.85"/><circle cx="186.7" cy="1523.6" r="13.85"/><circle cx="198.7" cy="1523.6" r="13.85"/><circle cx="210.7" cy="1523.6" r="13.85"/><circle cx="222.7" cy="1523.6" r="13.85"/><circle cx="234.7" cy="1523.6" r="13.85"/><circle cx="246.7" cy="1523.6" r="13.85"/><circle cx="258.7" cy="1523.6" r="13.85"/><circle cx="270.7" cy="1523.6" r="13.85"/><circle cx="282.7" cy="1523.6" r="13.85"/><circle cx="294.7" cy="1523.6" r="13.85"/><circle cx="306.7" cy="1523.6" r="13.85"/><circle cx="318.7" cy="1523.6" r="13.85"/><circle cx="330.7" cy="1523.6" r="13.85"/><circle cx="342.7" cy="1523.6" r="13.85"/><circle cx="354.7" cy="1523.6" r="13.85"/><circle cx="192.7" cy="1534" r="13.85"/><circle cx="204.7" cy="1534" r="13.85"/><circle cx="216.7" cy="1534" r="13.85"/><circle cx="228.7" cy="1534" r="13.85"/><circle cx="240.7" cy="1534" r="13.85"/><circle cx="252.7" cy="1534" r="13.85"/><circle cx="264.7" cy="1534" r="13.85"/><circle cx="276.7" cy="1534" r="13.85"/><circle cx="288.7" cy="1534" r="13.85"/><circle cx="300.7" cy="1534" r="13.85"/><circle cx="312.7" cy="1534" r="13.85"/><circle cx="324.7" cy="1534" r="13.85"/><circle cx="336.7" cy="1534" r="13.85"/><circle cx="348.7" cy="1534" r="13.85"/><circle cx="360.7" cy="1534" r="13.85"/><circle cx="186.7" cy="1544.4" r="13.85"/><circle cx="198.7" cy="1544.4" r="13.85"/><circle cx="210.7" cy="1544.4" r="13.85"/><circle cx="222.7" cy="1544.4" r="13.85"/><circle cx="234.7" cy="1544.4" r="13.85"/><circle cx="246.7" cy="1544.4" r="13.85"/><circle cx="258.7" cy="1544.4" r="13.85"/><circle cx="270.7" cy="1544.4" r="13.85"/><circle cx="282.7" cy="1544.4" r="13.85"/><circle cx="294.7" cy="1544.4" r="13.85"/><circle cx="306.7" cy="1544.4" r="13.85"/><circle cx="318.7" cy="1544.4" r="13.85"/><circle cx="330.7" cy="1544.4" r="13.85"/><circle cx="342.7" cy="1544.4" r="13.85"/><circle cx="354.7" cy="1544.4" r="13.85"/><circle cx="192.7" cy="1554.8" r="13.85"/><circle cx="204.7" cy="1554.8" r="13.85"/><circle cx="216.7" cy="1554.8" r="13.85"/><circle cx="228.7" cy="1554.8" r="13.85"/><circle cx="240.7" cy="1554.8" r="13.85"/><circle cx="252.7" cy="1554.8" r="13.85"/><circle cx="264.7" cy="1554.8" r="13.85"/><circle cx="276.7" cy="1554.8" r="13.85"/><circle cx="288.7" cy="1554.8" r="13.85"/><circle cx="300.7" cy="1554.8" r="13.85"/><circle cx="312.7" cy="1554.8" r="13.85"/><circle cx="324.7" cy="1554.8" r="13.85"/><circle cx="336.7" cy="1554.8" r="13.85"/><circle cx="348.7" cy="1554.8" r="13.85"/><circle cx="360.7" cy="1554.8" r="13.85"/><circle cx="198.7" cy="1565.2" r="13.85"/><circle cx="210.7" cy="1565.2" r="13.85"/><circle cx="222.7" cy="1565.2" r="13.85"/><circle cx="234.7" cy="1565.2" r="13.85"/><circle cx="246.7" cy="1565.2" r="13.85"/><circle cx="258.7" cy="1565.2" r="13.85"/><circle cx="270.7" cy="1565.2" r="13.85"/><circle cx="282.7" cy="1565.2" r="13.85"/><circle cx="294.7" cy="1565.2" r="13.85"/><circle cx="306.7" cy="1565.2" r="13.85"/><circle cx="318.7" cy="1565.2" r="13.85"/><circle cx="330.7" cy="1565.2" r="13.85"/><circle cx="342.7" cy="1565.2" r="13.85"/><circle cx="354.7" cy="1565.2" r="13.85"/><circle cx="366.7" cy="1565.2" r="13.85"/><circle cx="216.7" cy="1575.5" r="13.85"/><circle cx="228.7" cy="1575.5" r="13.85"/><circle cx="240.7" cy="1575.5" r="13.85"/><circle cx="252.7" cy="1575.5" r="13.85"/><circle cx="264.7" cy="1575.5" r="13.85"/><circle cx="276.7" cy="1575.5" r="13.85"/><circle cx="288.7" cy="1575.5" r="13.85"/><circle cx="300.7" cy="1575.5" r="13.85"/><circle cx="312.7" cy="1575.5" r="13.85"/><circle cx="192.2" cy="1435.4" r="13.85"/><circle cx="189.8" cy="1446.2" r="13.85"/><circle cx="188.6" cy="1480" r="13.85"/><circle cx="188.6" cy="1506.6" r="13.85"/><circle cx="188.1" cy="1538" r="13.85"/><circle cx="191" cy="1552.4" r="13.85"/><circle cx="198.3" cy="1566.9" r="13.85"/><circle cx="210.4" cy="1581.4" r="13.85"/><circle cx="232.1" cy="1413.6" r="13.85"/><circle cx="253.8" cy="1408.8" r="13.85"/><circle cx="263.5" cy="1417.3" r="13.85"/><circle cx="285.2" cy="1413.6" r="13.85"/><circle cx="302.1" cy="1410" r="13.85"/><circle cx="246.6" cy="1431.7" r="13.85"/><circle cx="294.8" cy="1431.7" r="13.85"/><circle cx="331.1" cy="1439" r="13.85"/><circle cx="316.6" cy="1446.2" r="13.85"/><circle cx="340.7" cy="1453.5" r="13.85"/><circle cx="350.4" cy="1465.5" r="13.85"/><circle cx="362.4" cy="1476.4" r="13.85"/><circle cx="375.7" cy="1476.4" r="13.85"/><circle cx="401.1" cy="1434.2" r="13.85"/><circle cx="401.1" cy="1481.2" r="13.85"/><circle cx="447.4" cy="1460.7" r="13.85"/><circle cx="446.9" cy="1477.6" r="13.85"/><circle cx="455.4" cy="1501.7" r="13.85"/><circle cx="465" cy="1501.7" r="13.85"/><circle cx="462.6" cy="1528.3" r="13.85"/><circle cx="463.8" cy="1554.9" r="13.85"/><circle cx="414.4" cy="1506.6" r="13.85"/><circle cx="391.4" cy="1499.3" r="13.85"/><circle cx="375.7" cy="1511.4" r="13.85"/><circle cx="409.5" cy="1533.1" r="13.85"/><circle cx="391.4" cy="1533.1" r="13.85"/><circle cx="393.8" cy="1552.4" r="13.85"/><circle cx="408.3" cy="1564.5" r="13.85"/><circle cx="393.8" cy="1564.5" r="13.85"/><circle cx="430" cy="1565.7" r="13.85"/><circle cx="438.5" cy="1565.7" r="13.85"/><circle cx="379.3" cy="1565.7" r="13.85"/><circle cx="367.3" cy="1566.9" r="13.85"/><circle cx="343.1" cy="1566.9" r="13.85"/><circle cx="328.6" cy="1566.9" r="13.85"/><circle cx="304.5" cy="1579" r="13.85"/><circle cx="285.2" cy="1581.4" r="13.85"/><circle cx="246.6" cy="1576.6" r="13.85"/><circle cx="229.7" cy="1566.9" r="13.85"/><circle cx="378.1" cy="1530.7" r="13.85"/><circle cx="385.4" cy="1548.8" r="13.85"/><circle cx="188.6" cy="1463.1" r="13.85"/><circle cx="188.6" cy="1493.3" r="13.85"/><circle cx="188.1" cy="1522.3" r="13.85"/><circle cx="628.7" cy="1429.5" r="13.85"/><circle cx="630.5" cy="1471.2" r="13.85"/><circle cx="1062.6" cy="1523.3" r="13.85"/>
</g>
<path class="ax" d="M160.8 1603.5v14.0M329.1 1603.5v14.0M497.3 1603.5v14.0M665.5 1603.5v14.0M833.8 1603.5v14.0M1002.0 1603.5v14.0M142.8 1591.0h-14.0M142.8 1425.8h-14.0M142.8 1260.7h-14.0"/>
<rect class="ax" x="142.8" y="1212.7" width="963.4" height="390.8"/>
<text class="tk" text-anchor="middle" x="160.8" y="1662.5">3.5</text>
<text class="tk" text-anchor="middle" x="329.1" y="1662.5">4.0</text>
<text class="tk" text-anchor="middle" x="497.3" y="1662.5">4.5</text>
<text class="tk" text-anchor="middle" x="665.5" y="1662.5">5.0</text>
<text class="tk" text-anchor="middle" x="833.8" y="1662.5">5.5</text>
<text class="tk" text-anchor="middle" x="1002.0" y="1662.5">6.0</text>
<text class="tk" text-anchor="end" x="114.0" y="1605.9">0.0</text>
<text class="tk" text-anchor="end" x="114.0" y="1440.8">0.2</text>
<text class="tk" text-anchor="end" x="114.0" y="1275.6">0.4</text>
<text class="lb" text-anchor="middle" x="624.5" y="1188.3">iHS score in LBK vs. WHG ancestry</text>
<text class="lb" text-anchor="middle" x="624.5" y="1711.5">|Normalized iHS score|</text>
<text class="lb" text-anchor="middle" transform="translate(26.4 1409.0) rotate(-90)">WHG ancestry</text>
<text class="lb" y="1260.5"><tspan class="it" x="624.4">r</tspan><tspan class="sub" x="637.7" dy="4.7">s</tspan><tspan x="655.9" dy="-4.7">=</tspan><tspan x="695.9">−</tspan><tspan x="729.4">0.09237</tspan><tspan class="it" x="863.0">,</tspan><tspan class="it" x="878.7">p</tspan><tspan x="905.7">=</tspan><tspan x="939.2">0.03077</tspan></text>
</g>
<g>
<g class="pt">
<circle cx="1297.6" cy="1436.3" r="13.85"/><circle cx="1309.6" cy="1436.3" r="13.85"/><circle cx="1321.6" cy="1436.3" r="13.85"/><circle cx="1243.6" cy="1446.7" r="13.85"/><circle cx="1255.6" cy="1446.7" r="13.85"/><circle cx="1267.6" cy="1446.7" r="13.85"/><circle cx="1279.6" cy="1446.7" r="13.85"/><circle cx="1291.6" cy="1446.7" r="13.85"/><circle cx="1303.6" cy="1446.7" r="13.85"/><circle cx="1315.6" cy="1446.7" r="13.85"/><circle cx="1327.6" cy="1446.7" r="13.85"/><circle cx="1339.6" cy="1446.7" r="13.85"/><circle cx="1351.6" cy="1446.7" r="13.85"/><circle cx="1363.6" cy="1446.7" r="13.85"/><circle cx="1375.6" cy="1446.7" r="13.85"/><circle cx="1387.6" cy="1446.7" r="13.85"/><circle cx="1399.6" cy="1446.7" r="13.85"/><circle cx="1411.6" cy="1446.7" r="13.85"/><circle cx="1423.6" cy="1446.7" r="13.85"/><circle cx="1435.6" cy="1446.7" r="13.85"/><circle cx="1249.6" cy="1457.1" r="13.85"/><circle cx="1261.6" cy="1457.1" r="13.85"/><circle cx="1273.6" cy="1457.1" r="13.85"/><circle cx="1285.6" cy="1457.1" r="13.85"/><circle cx="1297.6" cy="1457.1" r="13.85"/><circle cx="1309.6" cy="1457.1" r="13.85"/><circle cx="1321.6" cy="1457.1" r="13.85"/><circle cx="1333.6" cy="1457.1" r="13.85"/><circle cx="1345.6" cy="1457.1" r="13.85"/><circle cx="1357.6" cy="1457.1" r="13.85"/><circle cx="1369.6" cy="1457.1" r="13.85"/><circle cx="1381.6" cy="1457.1" r="13.85"/><circle cx="1393.6" cy="1457.1" r="13.85"/><circle cx="1405.6" cy="1457.1" r="13.85"/><circle cx="1417.6" cy="1457.1" r="13.85"/><circle cx="1429.6" cy="1457.1" r="13.85"/><circle cx="1441.6" cy="1457.1" r="13.85"/><circle cx="1243.6" cy="1467.5" r="13.85"/><circle cx="1255.6" cy="1467.5" r="13.85"/><circle cx="1267.6" cy="1467.5" r="13.85"/><circle cx="1279.6" cy="1467.5" r="13.85"/><circle cx="1291.6" cy="1467.5" r="13.85"/><circle cx="1303.6" cy="1467.5" r="13.85"/><circle cx="1315.6" cy="1467.5" r="13.85"/><circle cx="1327.6" cy="1467.5" r="13.85"/><circle cx="1339.6" cy="1467.5" r="13.85"/><circle cx="1351.6" cy="1467.5" r="13.85"/><circle cx="1363.6" cy="1467.5" r="13.85"/><circle cx="1375.6" cy="1467.5" r="13.85"/><circle cx="1387.6" cy="1467.5" r="13.85"/><circle cx="1399.6" cy="1467.5" r="13.85"/><circle cx="1411.6" cy="1467.5" r="13.85"/><circle cx="1423.6" cy="1467.5" r="13.85"/><circle cx="1435.6" cy="1467.5" r="13.85"/><circle cx="1447.6" cy="1467.5" r="13.85"/><circle cx="1459.6" cy="1467.5" r="13.85"/><circle cx="1471.6" cy="1467.5" r="13.85"/><circle cx="1249.6" cy="1477.9" r="13.85"/><circle cx="1261.6" cy="1477.9" r="13.85"/><circle cx="1273.6" cy="1477.9" r="13.85"/><circle cx="1285.6" cy="1477.9" r="13.85"/><circle cx="1297.6" cy="1477.9" r="13.85"/><circle cx="1309.6" cy="1477.9" r="13.85"/><circle cx="1321.6" cy="1477.9" r="13.85"/><circle cx="1333.6" cy="1477.9" r="13.85"/><circle cx="1345.6" cy="1477.9" r="13.85"/><circle cx="1357.6" cy="1477.9" r="13.85"/><circle cx="1369.6" cy="1477.9" r="13.85"/><circle cx="1381.6" cy="1477.9" r="13.85"/><circle cx="1393.6" cy="1477.9" r="13.85"/><circle cx="1405.6" cy="1477.9" r="13.85"/><circle cx="1417.6" cy="1477.9" r="13.85"/><circle cx="1429.6" cy="1477.9" r="13.85"/><circle cx="1441.6" cy="1477.9" r="13.85"/><circle cx="1453.6" cy="1477.9" r="13.85"/><circle cx="1465.6" cy="1477.9" r="13.85"/><circle cx="1477.6" cy="1477.9" r="13.85"/><circle cx="1489.6" cy="1477.9" r="13.85"/><circle cx="1243.6" cy="1488.3" r="13.85"/><circle cx="1255.6" cy="1488.3" r="13.85"/><circle cx="1267.6" cy="1488.3" r="13.85"/><circle cx="1279.6" cy="1488.3" r="13.85"/><circle cx="1291.6" cy="1488.3" r="13.85"/><circle cx="1303.6" cy="1488.3" r="13.85"/><circle cx="1315.6" cy="1488.3" r="13.85"/><circle cx="1327.6" cy="1488.3" r="13.85"/><circle cx="1339.6" cy="1488.3" r="13.85"/><circle cx="1351.6" cy="1488.3" r="13.85"/><circle cx="1363.6" cy="1488.3" r="13.85"/><circle cx="1375.6" cy="1488.3" r="13.85"/><circle cx="1387.6" cy="1488.3" r="13.85"/><circle cx="1399.6" cy="1488.3" r="13.85"/><circle cx="1411.6" cy="1488.3" r="13.85"/><circle cx="1423.6" cy="1488.3" r="13.85"/><circle cx="1435.6" cy="1488.3" r="13.85"/><circle cx="1447.6" cy="1488.3" r="13.85"/><circle cx="1459.6" cy="1488.3" r="13.85"/><circle cx="1471.6" cy="1488.3" r="13.85"/><circle cx="1483.6" cy="1488.3" r="13.85"/><circle cx="1495.6" cy="1488.3" r="13.85"/><circle cx="1237.6" cy="1498.7" r="13.85"/><circle cx="1249.6" cy="1498.7" r="13.85"/><circle cx="1261.6" cy="1498.7" r="13.85"/><circle cx="1273.6" cy="1498.7" r="13.85"/><circle cx="1285.6" cy="1498.7" r="13.85"/><circle cx="1297.6" cy="1498.7" r="13.85"/><circle cx="1309.6" cy="1498.7" r="13.85"/><circle cx="1321.6" cy="1498.7" r="13.85"/><circle cx="1333.6" cy="1498.7" r="13.85"/><circle cx="1345.6" cy="1498.7" r="13.85"/><circle cx="1357.6" cy="1498.7" r="13.85"/><circle cx="1369.6" cy="1498.7" r="13.85"/><circle cx="1381.6" cy="1498.7" r="13.85"/><circle cx="1393.6" cy="1498.7" r="13.85"/><circle cx="1405.6" cy="1498.7" r="13.85"/><circle cx="1417.6" cy="1498.7" r="13.85"/><circle cx="1429.6" cy="1498.7" r="13.85"/><circle cx="1441.6" cy="1498.7" r="13.85"/><circle cx="1453.6" cy="1498.7" r="13.85"/><circle cx="1465.6" cy="1498.7" r="13.85"/><circle cx="1477.6" cy="1498.7" r="13.85"/><circle cx="1489.6" cy="1498.7" r="13.85"/><circle cx="1501.6" cy="1498.7" r="13.85"/><circle cx="1513.6" cy="1498.7" r="13.85"/><circle cx="1549.6" cy="1498.7" r="13.85"/><circle cx="1561.6" cy="1498.7" r="13.85"/><circle cx="1573.6" cy="1498.7" r="13.85"/><circle cx="1585.6" cy="1498.7" r="13.85"/><circle cx="1243.6" cy="1509.1" r="13.85"/><circle cx="1255.6" cy="1509.1" r="13.85"/><circle cx="1267.6" cy="1509.1" r="13.85"/><circle cx="1279.6" cy="1509.1" r="13.85"/><circle cx="1291.6" cy="1509.1" r="13.85"/><circle cx="1303.6" cy="1509.1" r="13.85"/><circle cx="1315.6" cy="1509.1" r="13.85"/><circle cx="1327.6" cy="1509.1" r="13.85"/><circle cx="1339.6" cy="1509.1" r="13.85"/><circle cx="1351.6" cy="1509.1" r="13.85"/><circle cx="1363.6" cy="1509.1" r="13.85"/><circle cx="1375.6" cy="1509.1" r="13.85"/><circle cx="1387.6" cy="1509.1" r="13.85"/><circle cx="1399.6" cy="1509.1" r="13.85"/><circle cx="1411.6" cy="1509.1" r="13.85"/><circle cx="1423.6" cy="1509.1" r="13.85"/><circle cx="1435.6" cy="1509.1" r="13.85"/><circle cx="1447.6" cy="1509.1" r="13.85"/><circle cx="1459.6" cy="1509.1" r="13.85"/><circle cx="1471.6" cy="1509.1" r="13.85"/><circle cx="1483.6" cy="1509.1" r="13.85"/><circle cx="1495.6" cy="1509.1" r="13.85"/><circle cx="1507.6" cy="1509.1" r="13.85"/><circle cx="1519.6" cy="1509.1" r="13.85"/><circle cx="1531.6" cy="1509.1" r="13.85"/><circle cx="1543.6" cy="1509.1" r="13.85"/><circle cx="1555.6" cy="1509.1" r="13.85"/><circle cx="1567.6" cy="1509.1" r="13.85"/><circle cx="1579.6" cy="1509.1" r="13.85"/><circle cx="1591.6" cy="1509.1" r="13.85"/><circle cx="1603.6" cy="1509.1" r="13.85"/><circle cx="1237.6" cy="1519.4" r="13.85"/><circle cx="1249.6" cy="1519.4" r="13.85"/><circle cx="1261.6" cy="1519.4" r="13.85"/><circle cx="1273.6" cy="1519.4" r="13.85"/><circle cx="1285.6" cy="1519.4" r="13.85"/><circle cx="1297.6" cy="1519.4" r="13.85"/><circle cx="1309.6" cy="1519.4" r="13.85"/><circle cx="1321.6" cy="1519.4" r="13.85"/><circle cx="1333.6" cy="1519.4" r="13.85"/><circle cx="1345.6" cy="1519.4" r="13.85"/><circle cx="1357.6" cy="1519.4" r="13.85"/><circle cx="1369.6" cy="1519.4" r="13.85"/><circle cx="1381.6" cy="1519.4" r="13.85"/><circle cx="1393.6" cy="1519.4" r="13.85"/><circle cx="1405.6" cy="1519.4" r="13.85"/><circle cx="1417.6" cy="1519.4" r="13.85"/><circle cx="1429.6" cy="1519.4" r="13.85"/><circle cx="1441.6" cy="1519.4" r="13.85"/><circle cx="1453.6" cy="1519.4" r="13.85"/><circle cx="1465.6" cy="1519.4" r="13.85"/><circle cx="1477.6" cy="1519.4" r="13.85"/><circle cx="1489.6" cy="1519.4" r="13.85"/><circle cx="1501.6" cy="1519.4" r="13.85"/><circle cx="1513.6" cy="1519.4" r="13.85"/><circle cx="1525.6" cy="1519.4" r="13.85"/><circle cx="1537.6" cy="1519.4" r="13.85"/><circle cx="1549.6" cy="1519.4" r="13.85"/><circle cx="1561.6" cy="1519.4" r="13.85"/><circle cx="1573.6" cy="1519.4" r="13.85"/><circle cx="1585.6" cy="1519.4" r="13.85"/><circle cx="1597.6" cy="1519.4" r="13.85"/><circle cx="1609.6" cy="1519.4" r="13.85"/><circle cx="1621.6" cy="1519.4" r="13.85"/><circle cx="1243.6" cy="1529.8" r="13.85"/><circle cx="1255.6" cy="1529.8" r="13.85"/><circle cx="1267.6" cy="1529.8" r="13.85"/><circle cx="1279.6" cy="1529.8" r="13.85"/><circle cx="1291.6" cy="1529.8" r="13.85"/><circle cx="1303.6" cy="1529.8" r="13.85"/><circle cx="1315.6" cy="1529.8" r="13.85"/><circle cx="1327.6" cy="1529.8" r="13.85"/><circle cx="1339.6" cy="1529.8" r="13.85"/><circle cx="1351.6" cy="1529.8" r="13.85"/><circle cx="1363.6" cy="1529.8" r="13.85"/><circle cx="1375.6" cy="1529.8" r="13.85"/><circle cx="1387.6" cy="1529.8" r="13.85"/><circle cx="1399.6" cy="1529.8" r="13.85"/><circle cx="1411.6" cy="1529.8" r="13.85"/><circle cx="1423.6" cy="1529.8" r="13.85"/><circle cx="1435.6" cy="1529.8" r="13.85"/><circle cx="1447.6" cy="1529.8" r="13.85"/><circle cx="1459.6" cy="1529.8" r="13.85"/><circle cx="1471.6" cy="1529.8" r="13.85"/><circle cx="1483.6" cy="1529.8" r="13.85"/><circle cx="1495.6" cy="1529.8" r="13.85"/><circle cx="1507.6" cy="1529.8" r="13.85"/><circle cx="1519.6" cy="1529.8" r="13.85"/><circle cx="1531.6" cy="1529.8" r="13.85"/><circle cx="1543.6" cy="1529.8" r="13.85"/><circle cx="1555.6" cy="1529.8" r="13.85"/><circle cx="1567.6" cy="1529.8" r="13.85"/><circle cx="1579.6" cy="1529.8" r="13.85"/><circle cx="1591.6" cy="1529.8" r="13.85"/><circle cx="1603.6" cy="1529.8" r="13.85"/><circle cx="1615.6" cy="1529.8" r="13.85"/><circle cx="1237.6" cy="1540.2" r="13.85"/><circle cx="1249.6" cy="1540.2" r="13.85"/><circle cx="1261.6" cy="1540.2" r="13.85"/><circle cx="1273.6" cy="1540.2" r="13.85"/><circle cx="1285.6" cy="1540.2" r="13.85"/><circle cx="1297.6" cy="1540.2" r="13.85"/><circle cx="1309.6" cy="1540.2" r="13.85"/><circle cx="1321.6" cy="1540.2" r="13.85"/><circle cx="1333.6" cy="1540.2" r="13.85"/><circle cx="1345.6" cy="1540.2" r="13.85"/><circle cx="1357.6" cy="1540.2" r="13.85"/><circle cx="1369.6" cy="1540.2" r="13.85"/><circle cx="1381.6" cy="1540.2" r="13.85"/><circle cx="1393.6" cy="1540.2" r="13.85"/><circle cx="1405.6" cy="1540.2" r="13.85"/><circle cx="1417.6" cy="1540.2" r="13.85"/><circle cx="1429.6" cy="1540.2" r="13.85"/><circle cx="1441.6" cy="1540.2" r="13.85"/><circle cx="1453.6" cy="1540.2" r="13.85"/><circle cx="1465.6" cy="1540.2" r="13.85"/><circle cx="1477.6" cy="1540.2" r="13.85"/><circle cx="1489.6" cy="1540.2" r="13.85"/><circle cx="1501.6" cy="1540.2" r="13.85"/><circle cx="1513.6" cy="1540.2" r="13.85"/><circle cx="1525.6" cy="1540.2" r="13.85"/><circle cx="1537.6" cy="1540.2" r="13.85"/><circle cx="1549.6" cy="1540.2" r="13.85"/><circle cx="1561.6" cy="1540.2" r="13.85"/><circle cx="1573.6" cy="1540.2" r="13.85"/><circle cx="1585.6" cy="1540.2" r="13.85"/><circle cx="1597.6" cy="1540.2" r="13.85"/><circle cx="1243.6" cy="1550.6" r="13.85"/><circle cx="1255.6" cy="1550.6" r="13.85"/><circle cx="1267.6" cy="1550.6" r="13.85"/><circle cx="1279.6" cy="1550.6" r="13.85"/><circle cx="1291.6" cy="1550.6" r="13.85"/><circle cx="1303.6" cy="1550.6" r="13.85"/><circle cx="1315.6" cy="1550.6" r="13.85"/><circle cx="1327.6" cy="1550.6" r="13.85"/><circle cx="1339.6" cy="1550.6" r="13.85"/><circle cx="1351.6" cy="1550.6" r="13.85"/><circle cx="1363.6" cy="1550.6" r="13.85"/><circle cx="1375.6" cy="1550.6" r="13.85"/><circle cx="1387.6" cy="1550.6" r="13.85"/><circle cx="1399.6" cy="1550.6" r="13.85"/><circle cx="1411.6" cy="1550.6" r="13.85"/><circle cx="1423.6" cy="1550.6" r="13.85"/><circle cx="1435.6" cy="1550.6" r="13.85"/><circle cx="1447.6" cy="1550.6" r="13.85"/><circle cx="1459.6" cy="1550.6" r="13.85"/><circle cx="1471.6" cy="1550.6" r="13.85"/><circle cx="1483.6" cy="1550.6" r="13.85"/><circle cx="1507.6" cy="1550.6" r="13.85"/><circle cx="1519.6" cy="1550.6" r="13.85"/><circle cx="1531.6" cy="1550.6" r="13.85"/><circle cx="1543.6" cy="1550.6" r="13.85"/><circle cx="1555.6" cy="1550.6" r="13.85"/><circle cx="1567.6" cy="1550.6" r="13.85"/><circle cx="1249.6" cy="1561" r="13.85"/><circle cx="1261.6" cy="1561" r="13.85"/><circle cx="1273.6" cy="1561" r="13.85"/><circle cx="1285.6" cy="1561" r="13.85"/><circle cx="1297.6" cy="1561" r="13.85"/><circle cx="1309.6" cy="1561" r="13.85"/><circle cx="1321.6" cy="1561" r="13.85"/><circle cx="1333.6" cy="1561" r="13.85"/><circle cx="1345.6" cy="1561" r="13.85"/><circle cx="1357.6" cy="1561" r="13.85"/><circle cx="1369.6" cy="1561" r="13.85"/><circle cx="1381.6" cy="1561" r="13.85"/><circle cx="1393.6" cy="1561" r="13.85"/><circle cx="1405.6" cy="1561" r="13.85"/><circle cx="1417.6" cy="1561" r="13.85"/><circle cx="1429.6" cy="1561" r="13.85"/><circle cx="1441.6" cy="1561" r="13.85"/><circle cx="1453.6" cy="1561" r="13.85"/><circle cx="1465.6" cy="1561" r="13.85"/><circle cx="1525.6" cy="1561" r="13.85"/><circle cx="1279.6" cy="1571.4" r="13.85"/><circle cx="1291.6" cy="1571.4" r="13.85"/><circle cx="1303.6" cy="1571.4" r="13.85"/><circle cx="1315.6" cy="1571.4" r="13.85"/><circle cx="1327.6" cy="1571.4" r="13.85"/><circle cx="1339.6" cy="1571.4" r="13.85"/><circle cx="1351.6" cy="1571.4" r="13.85"/><circle cx="1363.6" cy="1571.4" r="13.85"/><circle cx="1375.6" cy="1571.4" r="13.85"/><circle cx="1387.6" cy="1571.4" r="13.85"/><circle cx="1399.6" cy="1571.4" r="13.85"/><circle cx="1420" cy="1298.7" r="13.85"/><circle cx="1249.1" cy="1366.6" r="13.85"/><circle cx="1355.6" cy="1398.2" r="13.85"/><circle cx="1468.2" cy="1398.2" r="13.85"/><circle cx="1262.5" cy="1414" r="13.85"/><circle cx="1239.4" cy="1429.6" r="13.85"/><circle cx="1242.9" cy="1447" r="13.85"/><circle cx="1240.2" cy="1479.2" r="13.85"/><circle cx="1237.6" cy="1498" r="13.85"/><circle cx="1237.6" cy="1524.8" r="13.85"/><circle cx="1238.9" cy="1551.7" r="13.85"/><circle cx="1242.9" cy="1567.7" r="13.85"/><circle cx="1253.6" cy="1570.4" r="13.85"/><circle cx="1238.9" cy="1463.1" r="13.85"/><circle cx="1237.6" cy="1511.4" r="13.85"/><circle cx="1237.6" cy="1538.2" r="13.85"/><circle cx="1291.2" cy="1429.6" r="13.85"/><circle cx="1315.3" cy="1424.2" r="13.85"/><circle cx="1328.8" cy="1428.3" r="13.85"/><circle cx="1366.3" cy="1429.6" r="13.85"/><circle cx="1371.7" cy="1439" r="13.85"/><circle cx="1401.2" cy="1433.6" r="13.85"/><circle cx="1436.1" cy="1433.6" r="13.85"/><circle cx="1438.7" cy="1444.4" r="13.85"/><circle cx="1467.4" cy="1433.6" r="13.85"/><circle cx="1495.1" cy="1429.6" r="13.85"/><circle cx="1476.3" cy="1447" r="13.85"/><circle cx="1495.1" cy="1455.1" r="13.85"/><circle cx="1520.5" cy="1455.1" r="13.85"/><circle cx="1548.7" cy="1455.1" r="13.85"/><circle cx="1560.8" cy="1460.5" r="13.85"/><circle cx="1593.8" cy="1455.1" r="13.85"/><circle cx="1516.5" cy="1476.5" r="13.85"/><circle cx="1495.1" cy="1484.6" r="13.85"/><circle cx="1550.1" cy="1492.6" r="13.85"/><circle cx="1588.9" cy="1481.9" r="13.85"/><circle cx="1599.7" cy="1492.6" r="13.85"/><circle cx="1618.5" cy="1511.4" r="13.85"/><circle cx="1488.4" cy="1581.2" r="13.85"/><circle cx="1524.6" cy="1565.1" r="13.85"/><circle cx="1548.7" cy="1555.7" r="13.85"/><circle cx="1567.5" cy="1555.7" r="13.85"/><circle cx="1602.4" cy="1538.2" r="13.85"/><circle cx="1457.5" cy="1565.1" r="13.85"/><circle cx="1436.1" cy="1565.1" r="13.85"/><circle cx="1422.6" cy="1565.1" r="13.85"/><circle cx="1391.8" cy="1578.5" r="13.85"/><circle cx="1342.2" cy="1582.5" r="13.85"/><circle cx="1295.2" cy="1577.1" r="13.85"/><circle cx="1272.4" cy="1571.8" r="13.85"/><circle cx="1470.9" cy="1563.7" r="13.85"/><circle cx="1790.1" cy="1475.9" r="13.85"/><circle cx="1780.8" cy="1485.5" r="13.85"/><circle cx="1786.6" cy="1498.5" r="13.85"/><circle cx="1769.2" cy="1502.8" r="13.85"/><circle cx="1712.1" cy="1491.3" r="13.85"/><circle cx="1736.7" cy="1492.1" r="13.85"/><circle cx="1719.1" cy="1513.6" r="13.85"/><circle cx="1704" cy="1528.9" r="13.85"/><circle cx="1728.6" cy="1550.1" r="13.85"/><circle cx="1689.5" cy="1550.6" r="13.85"/><circle cx="1672.1" cy="1555" r="13.85"/><circle cx="1660.6" cy="1555" r="13.85"/><circle cx="1637.4" cy="1549.2" r="13.85"/><circle cx="1677.9" cy="1523.1" r="13.85"/><circle cx="1660.6" cy="1528.9" r="13.85"/><circle cx="1646.1" cy="1523.1" r="13.85"/><circle cx="1631.6" cy="1513" r="13.85"/><circle cx="1620" cy="1530.4" r="13.85"/><circle cx="1883.6" cy="1482" r="13.85"/><circle cx="1920.4" cy="1482" r="13.85"/><circle cx="1915.5" cy="1533.8" r="13.85"/><circle cx="1926.5" cy="1539.1" r="13.85"/><circle cx="2093.7" cy="1507.8" r="13.85"/><circle cx="2112.5" cy="1518.2" r="13.85"/><circle cx="1653.3" cy="1540.5" r="13.85"/><circle cx="1689.5" cy="1535.6" r="13.85"/><circle cx="1625.8" cy="1530.4" r="13.85"/>
</g>
<path class="ax" d="M1207.9 1603.5v14.0M1398.3 1603.5v14.0M1588.7 1603.5v14.0M1779.1 1603.5v14.0M1969.5 1603.5v14.0M1192.5 1591.0h-14.0M1192.5 1425.8h-14.0M1192.5 1260.7h-14.0"/>
<rect class="ax" x="1192.5" y="1212.7" width="963.2" height="390.8"/>
<text class="tk" text-anchor="middle" x="1207.9" y="1662.5">3.3</text>
<text class="tk" text-anchor="middle" x="1398.3" y="1662.5">3.4</text>
<text class="tk" text-anchor="middle" x="1588.7" y="1662.5">3.5</text>
<text class="tk" text-anchor="middle" x="1779.1" y="1662.5">3.6</text>
<text class="tk" text-anchor="middle" x="1969.5" y="1662.5">3.7</text>
<text class="lb" text-anchor="middle" x="1674.1" y="1188.3">Unphased iHS score in LBK vs. WHG ancestry</text>
<text class="lb" text-anchor="middle" x="1674.1" y="1711.5">|Normalized iHS (unphased) score|</text>
<text class="lb" text-anchor="middle" transform="translate(1152.8 1409.0) rotate(-90)">WHG ancestry</text>
<text class="lb" y="1260.5"><tspan class="it" x="1674.1">r</tspan><tspan class="sub" x="1687.3" dy="4.7">s</tspan><tspan x="1705.6" dy="-4.7">=</tspan><tspan x="1739.1">0.0009283</tspan><tspan class="it" x="1913.7">,</tspan><tspan class="it" x="1929.5">p</tspan><tspan x="1956.4">=</tspan><tspan x="1990.0">0.9789</tspan></text>
</g>
<g>
<g class="pt">
<circle cx="213.2" cy="2018" r="13.85"/><circle cx="225.2" cy="2018" r="13.85"/><circle cx="237.2" cy="2018" r="13.85"/><circle cx="249.2" cy="2018" r="13.85"/><circle cx="195.2" cy="2028.4" r="13.85"/><circle cx="207.2" cy="2028.4" r="13.85"/><circle cx="219.2" cy="2028.4" r="13.85"/><circle cx="231.2" cy="2028.4" r="13.85"/><circle cx="243.2" cy="2028.4" r="13.85"/><circle cx="255.2" cy="2028.4" r="13.85"/><circle cx="267.2" cy="2028.4" r="13.85"/><circle cx="291.2" cy="2028.4" r="13.85"/><circle cx="303.2" cy="2028.4" r="13.85"/><circle cx="315.2" cy="2028.4" r="13.85"/><circle cx="189.2" cy="2038.8" r="13.85"/><circle cx="201.2" cy="2038.8" r="13.85"/><circle cx="213.2" cy="2038.8" r="13.85"/><circle cx="225.2" cy="2038.8" r="13.85"/><circle cx="237.2" cy="2038.8" r="13.85"/><circle cx="249.2" cy="2038.8" r="13.85"/><circle cx="261.2" cy="2038.8" r="13.85"/><circle cx="297.2" cy="2038.8" r="13.85"/><circle cx="309.2" cy="2038.8" r="13.85"/><circle cx="321.2" cy="2038.8" r="13.85"/><circle cx="195.2" cy="2049.2" r="13.85"/><circle cx="207.2" cy="2049.2" r="13.85"/><circle cx="219.2" cy="2049.2" r="13.85"/><circle cx="231.2" cy="2049.2" r="13.85"/><circle cx="243.2" cy="2049.2" r="13.85"/><circle cx="255.2" cy="2049.2" r="13.85"/><circle cx="267.2" cy="2049.2" r="13.85"/><circle cx="291.2" cy="2049.2" r="13.85"/><circle cx="303.2" cy="2049.2" r="13.85"/><circle cx="315.2" cy="2049.2" r="13.85"/><circle cx="327.2" cy="2049.2" r="13.85"/><circle cx="339.2" cy="2049.2" r="13.85"/><circle cx="351.2" cy="2049.2" r="13.85"/><circle cx="363.2" cy="2049.2" r="13.85"/><circle cx="375.2" cy="2049.2" r="13.85"/><circle cx="189.2" cy="2059.6" r="13.85"/><circle cx="201.2" cy="2059.6" r="13.85"/><circle cx="213.2" cy="2059.6" r="13.85"/><circle cx="225.2" cy="2059.6" r="13.85"/><circle cx="237.2" cy="2059.6" r="13.85"/><circle cx="249.2" cy="2059.6" r="13.85"/><circle cx="261.2" cy="2059.6" r="13.85"/><circle cx="273.2" cy="2059.6" r="13.85"/><circle cx="285.2" cy="2059.6" r="13.85"/><circle cx="297.2" cy="2059.6" r="13.85"/><circle cx="309.2" cy="2059.6" r="13.85"/><circle cx="321.2" cy="2059.6" r="13.85"/><circle cx="333.2" cy="2059.6" r="13.85"/><circle cx="345.2" cy="2059.6" r="13.85"/><circle cx="357.2" cy="2059.6" r="13.85"/><circle cx="369.2" cy="2059.6" r="13.85"/><circle cx="381.2" cy="2059.6" r="13.85"/><circle cx="195.2" cy="2070" r="13.85"/><circle cx="207.2" cy="2070" r="13.85"/><circle cx="219.2" cy="2070" r="13.85"/><circle cx="231.2" cy="2070" r="13.85"/><circle cx="243.2" cy="2070" r="13.85"/><circle cx="255.2" cy="2070" r="13.85"/><circle cx="267.2" cy="2070" r="13.85"/><circle cx="279.2" cy="2070" r="13.85"/><circle cx="291.2" cy="2070" r="13.85"/><circle cx="303.2" cy="2070" r="13.85"/><circle cx="315.2" cy="2070" r="13.85"/><circle cx="327.2" cy="2070" r="13.85"/><circle cx="339.2" cy="2070" r="13.85"/><circle cx="351.2" cy="2070" r="13.85"/><circle cx="363.2" cy="2070" r="13.85"/><circle cx="375.2" cy="2070" r="13.85"/><circle cx="387.2" cy="2070" r="13.85"/><circle cx="399.2" cy="2070" r="13.85"/><circle cx="411.2" cy="2070" r="13.85"/><circle cx="423.2" cy="2070" r="13.85"/><circle cx="189.2" cy="2080.4" r="13.85"/><circle cx="201.2" cy="2080.4" r="13.85"/><circle cx="213.2" cy="2080.4" r="13.85"/><circle cx="225.2" cy="2080.4" r="13.85"/><circle cx="237.2" cy="2080.4" r="13.85"/><circle cx="249.2" cy="2080.4" r="13.85"/><circle cx="261.2" cy="2080.4" r="13.85"/><circle cx="273.2" cy="2080.4" r="13.85"/><circle cx="285.2" cy="2080.4" r="13.85"/><circle cx="297.2" cy="2080.4" r="13.85"/><circle cx="309.2" cy="2080.4" r="13.85"/><circle cx="321.2" cy="2080.4" r="13.85"/><circle cx="333.2" cy="2080.4" r="13.85"/><circle cx="345.2" cy="2080.4" r="13.85"/><circle cx="357.2" cy="2080.4" r="13.85"/><circle cx="369.2" cy="2080.4" r="13.85"/><circle cx="381.2" cy="2080.4" r="13.85"/><circle cx="393.2" cy="2080.4" r="13.85"/><circle cx="405.2" cy="2080.4" r="13.85"/><circle cx="417.2" cy="2080.4" r="13.85"/><circle cx="429.2" cy="2080.4" r="13.85"/><circle cx="195.2" cy="2090.8" r="13.85"/><circle cx="207.2" cy="2090.8" r="13.85"/><circle cx="219.2" cy="2090.8" r="13.85"/><circle cx="231.2" cy="2090.8" r="13.85"/><circle cx="243.2" cy="2090.8" r="13.85"/><circle cx="255.2" cy="2090.8" r="13.85"/><circle cx="267.2" cy="2090.8" r="13.85"/><circle cx="279.2" cy="2090.8" r="13.85"/><circle cx="291.2" cy="2090.8" r="13.85"/><circle cx="303.2" cy="2090.8" r="13.85"/><circle cx="315.2" cy="2090.8" r="13.85"/><circle cx="327.2" cy="2090.8" r="13.85"/><circle cx="339.2" cy="2090.8" r="13.85"/><circle cx="351.2" cy="2090.8" r="13.85"/><circle cx="363.2" cy="2090.8" r="13.85"/><circle cx="375.2" cy="2090.8" r="13.85"/><circle cx="387.2" cy="2090.8" r="13.85"/><circle cx="399.2" cy="2090.8" r="13.85"/><circle cx="411.2" cy="2090.8" r="13.85"/><circle cx="423.2" cy="2090.8" r="13.85"/><circle cx="189.2" cy="2101.2" r="13.85"/><circle cx="201.2" cy="2101.2" r="13.85"/><circle cx="213.2" cy="2101.2" r="13.85"/><circle cx="225.2" cy="2101.2" r="13.85"/><circle cx="237.2" cy="2101.2" r="13.85"/><circle cx="249.2" cy="2101.2" r="13.85"/><circle cx="261.2" cy="2101.2" r="13.85"/><circle cx="273.2" cy="2101.2" r="13.85"/><circle cx="285.2" cy="2101.2" r="13.85"/><circle cx="297.2" cy="2101.2" r="13.85"/><circle cx="309.2" cy="2101.2" r="13.85"/><circle cx="321.2" cy="2101.2" r="13.85"/><circle cx="333.2" cy="2101.2" r="13.85"/><circle cx="345.2" cy="2101.2" r="13.85"/><circle cx="357.2" cy="2101.2" r="13.85"/><circle cx="369.2" cy="2101.2" r="13.85"/><circle cx="381.2" cy="2101.2" r="13.85"/><circle cx="393.2" cy="2101.2" r="13.85"/><circle cx="405.2" cy="2101.2" r="13.85"/><circle cx="417.2" cy="2101.2" r="13.85"/><circle cx="429.2" cy="2101.2" r="13.85"/><circle cx="195.2" cy="2111.6" r="13.85"/><circle cx="207.2" cy="2111.6" r="13.85"/><circle cx="219.2" cy="2111.6" r="13.85"/><circle cx="231.2" cy="2111.6" r="13.85"/><circle cx="243.2" cy="2111.6" r="13.85"/><circle cx="255.2" cy="2111.6" r="13.85"/><circle cx="267.2" cy="2111.6" r="13.85"/><circle cx="279.2" cy="2111.6" r="13.85"/><circle cx="291.2" cy="2111.6" r="13.85"/><circle cx="303.2" cy="2111.6" r="13.85"/><circle cx="315.2" cy="2111.6" r="13.85"/><circle cx="327.2" cy="2111.6" r="13.85"/><circle cx="339.2" cy="2111.6" r="13.85"/><circle cx="351.2" cy="2111.6" r="13.85"/><circle cx="363.2" cy="2111.6" r="13.85"/><circle cx="375.2" cy="2111.6" r="13.85"/><circle cx="387.2" cy="2111.6" r="13.85"/><circle cx="399.2" cy="2111.6" r="13.85"/><circle cx="411.2" cy="2111.6" r="13.85"/><circle cx="423.2" cy="2111.6" r="13.85"/><circle cx="189.2" cy="2121.9" r="13.85"/><circle cx="201.2" cy="2121.9" r="13.85"/><circle cx="213.2" cy="2121.9" r="13.85"/><circle cx="225.2" cy="2121.9" r="13.85"/><circle cx="237.2" cy="2121.9" r="13.85"/><circle cx="249.2" cy="2121.9" r="13.85"/><circle cx="261.2" cy="2121.9" r="13.85"/><circle cx="273.2" cy="2121.9" r="13.85"/><circle cx="285.2" cy="2121.9" r="13.85"/><circle cx="297.2" cy="2121.9" r="13.85"/><circle cx="309.2" cy="2121.9" r="13.85"/><circle cx="321.2" cy="2121.9" r="13.85"/><circle cx="333.2" cy="2121.9" r="13.85"/><circle cx="345.2" cy="2121.9" r="13.85"/><circle cx="357.2" cy="2121.9" r="13.85"/><circle cx="369.2" cy="2121.9" r="13.85"/><circle cx="381.2" cy="2121.9" r="13.85"/><circle cx="393.2" cy="2121.9" r="13.85"/><circle cx="405.2" cy="2121.9" r="13.85"/><circle cx="417.2" cy="2121.9" r="13.85"/><circle cx="195.2" cy="2132.3" r="13.85"/><circle cx="207.2" cy="2132.3" r="13.85"/><circle cx="219.2" cy="2132.3" r="13.85"/><circle cx="231.2" cy="2132.3" r="13.85"/><circle cx="243.2" cy="2132.3" r="13.85"/><circle cx="255.2" cy="2132.3" r="13.85"/><circle cx="267.2" cy="2132.3" r="13.85"/><circle cx="279.2" cy="2132.3" r="13.85"/><circle cx="291.2" cy="2132.3" r="13.85"/><circle cx="303.2" cy="2132.3" r="13.85"/><circle cx="315.2" cy="2132.3" r="13.85"/><circle cx="327.2" cy="2132.3" r="13.85"/><circle cx="339.2" cy="2132.3" r="13.85"/><circle cx="351.2" cy="2132.3" r="13.85"/><circle cx="363.2" cy="2132.3" r="13.85"/><circle cx="375.2" cy="2132.3" r="13.85"/><circle cx="387.2" cy="2132.3" r="13.85"/><circle cx="399.2" cy="2132.3" r="13.85"/><circle cx="189.2" cy="2142.7" r="13.85"/><circle cx="201.2" cy="2142.7" r="13.85"/><circle cx="213.2" cy="2142.7" r="13.85"/><circle cx="225.2" cy="2142.7" r="13.85"/><circle cx="237.2" cy="2142.7" r="13.85"/><circle cx="249.2" cy="2142.7" r="13.85"/><circle cx="261.2" cy="2142.7" r="13.85"/><circle cx="273.2" cy="2142.7" r="13.85"/><circle cx="285.2" cy="2142.7" r="13.85"/><circle cx="297.2" cy="2142.7" r="13.85"/><circle cx="309.2" cy="2142.7" r="13.85"/><circle cx="321.2" cy="2142.7" r="13.85"/><circle cx="333.2" cy="2142.7" r="13.85"/><circle cx="345.2" cy="2142.7" r="13.85"/><circle cx="357.2" cy="2142.7" r="13.85"/><circle cx="369.2" cy="2142.7" r="13.85"/><circle cx="381.2" cy="2142.7" r="13.85"/><circle cx="393.2" cy="2142.7" r="13.85"/><circle cx="195.2" cy="2153.1" r="13.85"/><circle cx="327.2" cy="2153.1" r="13.85"/><circle cx="339.2" cy="2153.1" r="13.85"/><circle cx="351.2" cy="2153.1" r="13.85"/><circle cx="363.2" cy="2153.1" r="13.85"/><circle cx="194.8" cy="1962.5" r="13.85"/><circle cx="239.3" cy="1967.1" r="13.85"/><circle cx="230.5" cy="1980.5" r="13.85"/><circle cx="219.7" cy="1992.5" r="13.85"/><circle cx="190.2" cy="1994.4" r="13.85"/><circle cx="201" cy="1996.6" r="13.85"/><circle cx="326.5" cy="1967.6" r="13.85"/><circle cx="380.2" cy="1993.9" r="13.85"/><circle cx="374" cy="2003.3" r="13.85"/><circle cx="372.6" cy="2010" r="13.85"/><circle cx="382" cy="2024.7" r="13.85"/><circle cx="251.9" cy="2010" r="13.85"/><circle cx="268" cy="2010" r="13.85"/><circle cx="284.1" cy="2015.3" r="13.85"/><circle cx="302.9" cy="2018" r="13.85"/><circle cx="313.6" cy="2020.7" r="13.85"/><circle cx="347.2" cy="2035.5" r="13.85"/><circle cx="337.8" cy="2039.5" r="13.85"/><circle cx="189.2" cy="2031.4" r="13.85"/><circle cx="189.2" cy="2052.9" r="13.85"/><circle cx="189.2" cy="2074.4" r="13.85"/><circle cx="189.2" cy="2098.5" r="13.85"/><circle cx="189.2" cy="2120" r="13.85"/><circle cx="189.7" cy="2141.4" r="13.85"/><circle cx="190.8" cy="2162.9" r="13.85"/><circle cx="203.6" cy="2154.8" r="13.85"/><circle cx="189.2" cy="2063.6" r="13.85"/><circle cx="189.2" cy="2087.8" r="13.85"/><circle cx="189.2" cy="2109.2" r="13.85"/><circle cx="189.2" cy="2130.7" r="13.85"/><circle cx="190.2" cy="2012.7" r="13.85"/><circle cx="418.2" cy="2133.4" r="13.85"/><circle cx="434.3" cy="2128" r="13.85"/><circle cx="445.1" cy="2138.7" r="13.85"/><circle cx="463.8" cy="2136.1" r="13.85"/><circle cx="414.2" cy="2114.6" r="13.85"/><circle cx="391.4" cy="2058.3" r="13.85"/><circle cx="418.2" cy="2062.3" r="13.85"/><circle cx="438.4" cy="2055.6" r="13.85"/><circle cx="457.1" cy="2046.2" r="13.85"/><circle cx="478.6" cy="2062.3" r="13.85"/><circle cx="506.8" cy="2067.7" r="13.85"/><circle cx="521.5" cy="2067.7" r="13.85"/><circle cx="522.9" cy="2078.4" r="13.85"/><circle cx="549.7" cy="2062.3" r="13.85"/><circle cx="563.1" cy="2046.2" r="13.85"/><circle cx="610.8" cy="2062.3" r="13.85"/><circle cx="619.4" cy="2062.3" r="13.85"/><circle cx="639.5" cy="2098.5" r="13.85"/><circle cx="638.2" cy="2120" r="13.85"/><circle cx="434.3" cy="2077" r="13.85"/><circle cx="429" cy="2093.1" r="13.85"/><circle cx="458.5" cy="2103.9" r="13.85"/><circle cx="474.6" cy="2109.2" r="13.85"/><circle cx="489.3" cy="2114.6" r="13.85"/><circle cx="455.8" cy="2122.6" r="13.85"/><circle cx="489.3" cy="2122.6" r="13.85"/><circle cx="522.9" cy="2109.2" r="13.85"/><circle cx="530.9" cy="2130.7" r="13.85"/><circle cx="489.3" cy="2145.4" r="13.85"/><circle cx="474.6" cy="2146.8" r="13.85"/><circle cx="450.4" cy="2150.8" r="13.85"/><circle cx="429" cy="2145.4" r="13.85"/><circle cx="399.5" cy="2146.8" r="13.85"/><circle cx="363.3" cy="2162.9" r="13.85"/><circle cx="327" cy="2157.5" r="13.85"/><circle cx="310.9" cy="2152.1" r="13.85"/><circle cx="260" cy="2150.8" r="13.85"/><circle cx="238.5" cy="2150.8" r="13.85"/><circle cx="678.6" cy="2035.9" r="13.85"/><circle cx="713.4" cy="2088.1" r="13.85"/><circle cx="849" cy="2062.6" r="13.85"/><circle cx="845.2" cy="2146.6" r="13.85"/><circle cx="1062.5" cy="2104" r="13.85"/>
</g>
<path class="ax" d="M312.4 2184.1v14.0M500.0 2184.1v14.0M687.6 2184.1v14.0M875.2 2184.1v14.0M1062.8 2184.1v14.0M142.8 2171.6h-14.0M142.8 2006.5h-14.0M142.8 1841.3h-14.0"/>
<rect class="ax" x="142.8" y="1793.3" width="963.4" height="390.8"/>
<text class="tk" text-anchor="middle" x="312.4" y="2243.1">4.0</text>
<text class="tk" text-anchor="middle" x="500.0" y="2243.1">4.5</text>
<text class="tk" text-anchor="middle" x="687.6" y="2243.1">5.0</text>
<text class="tk" text-anchor="middle" x="875.2" y="2243.1">5.5</text>
<text class="tk" text-anchor="middle" x="1062.8" y="2243.1">6.0</text>
<text class="tk" text-anchor="end" x="114.0" y="2186.5">0.0</text>
<text class="tk" text-anchor="end" x="114.0" y="2021.4">0.2</text>
<text class="tk" text-anchor="end" x="114.0" y="1856.2">0.4</text>
<text class="lb" text-anchor="middle" x="624.5" y="1768.9">nSL score in LBK vs. WHG ancestry</text>
<text class="lb" text-anchor="middle" x="624.5" y="2292.1">|Normalized nSL score|</text>
<text class="lb" text-anchor="middle" transform="translate(26.4 1989.6) rotate(-90)">WHG ancestry</text>
<text class="lb" y="1841.1"><tspan class="it" x="624.4">r</tspan><tspan class="sub" x="637.7" dy="4.7">s</tspan><tspan x="655.9" dy="-4.7">=</tspan><tspan x="695.9">−</tspan><tspan x="729.4">0.05486</tspan><tspan class="it" x="863.0">,</tspan><tspan class="it" x="878.7">p</tspan><tspan x="905.7">=</tspan><tspan x="939.2">0.1708</tspan></text>
</g>
<g>
<g class="pt">
<circle cx="1261.6" cy="1992.7" r="13.85"/><circle cx="1273.6" cy="1992.7" r="13.85"/><circle cx="1255.6" cy="2003.1" r="13.85"/><circle cx="1267.6" cy="2003.1" r="13.85"/><circle cx="1279.6" cy="2003.1" r="13.85"/><circle cx="1291.6" cy="2003.1" r="13.85"/><circle cx="1303.6" cy="2003.1" r="13.85"/><circle cx="1249.6" cy="2013.4" r="13.85"/><circle cx="1261.6" cy="2013.4" r="13.85"/><circle cx="1273.6" cy="2013.4" r="13.85"/><circle cx="1285.6" cy="2013.4" r="13.85"/><circle cx="1297.6" cy="2013.4" r="13.85"/><circle cx="1309.6" cy="2013.4" r="13.85"/><circle cx="1321.6" cy="2013.4" r="13.85"/><circle cx="1243.6" cy="2023.8" r="13.85"/><circle cx="1255.6" cy="2023.8" r="13.85"/><circle cx="1267.6" cy="2023.8" r="13.85"/><circle cx="1279.6" cy="2023.8" r="13.85"/><circle cx="1291.6" cy="2023.8" r="13.85"/><circle cx="1303.6" cy="2023.8" r="13.85"/><circle cx="1315.6" cy="2023.8" r="13.85"/><circle cx="1327.6" cy="2023.8" r="13.85"/><circle cx="1339.6" cy="2023.8" r="13.85"/><circle cx="1351.6" cy="2023.8" r="13.85"/><circle cx="1363.6" cy="2023.8" r="13.85"/><circle cx="1375.6" cy="2023.8" r="13.85"/><circle cx="1387.6" cy="2023.8" r="13.85"/><circle cx="1399.6" cy="2023.8" r="13.85"/><circle cx="1411.6" cy="2023.8" r="13.85"/><circle cx="1447.6" cy="2023.8" r="13.85"/><circle cx="1237.6" cy="2034.2" r="13.85"/><circle cx="1249.6" cy="2034.2" r="13.85"/><circle cx="1261.6" cy="2034.2" r="13.85"/><circle cx="1273.6" cy="2034.2" r="13.85"/><circle cx="1285.6" cy="2034.2" r="13.85"/><circle cx="1297.6" cy="2034.2" r="13.85"/><circle cx="1309.6" cy="2034.2" r="13.85"/><circle cx="1321.6" cy="2034.2" r="13.85"/><circle cx="1333.6" cy="2034.2" r="13.85"/><circle cx="1345.6" cy="2034.2" r="13.85"/><circle cx="1357.6" cy="2034.2" r="13.85"/><circle cx="1369.6" cy="2034.2" r="13.85"/><circle cx="1381.6" cy="2034.2" r="13.85"/><circle cx="1393.6" cy="2034.2" r="13.85"/><circle cx="1405.6" cy="2034.2" r="13.85"/><circle cx="1417.6" cy="2034.2" r="13.85"/><circle cx="1429.6" cy="2034.2" r="13.85"/><circle cx="1441.6" cy="2034.2" r="13.85"/><circle cx="1453.6" cy="2034.2" r="13.85"/><circle cx="1243.6" cy="2044.6" r="13.85"/><circle cx="1255.6" cy="2044.6" r="13.85"/><circle cx="1267.6" cy="2044.6" r="13.85"/><circle cx="1279.6" cy="2044.6" r="13.85"/><circle cx="1291.6" cy="2044.6" r="13.85"/><circle cx="1303.6" cy="2044.6" r="13.85"/><circle cx="1315.6" cy="2044.6" r="13.85"/><circle cx="1327.6" cy="2044.6" r="13.85"/><circle cx="1339.6" cy="2044.6" r="13.85"/><circle cx="1351.6" cy="2044.6" r="13.85"/><circle cx="1363.6" cy="2044.6" r="13.85"/><circle cx="1375.6" cy="2044.6" r="13.85"/><circle cx="1387.6" cy="2044.6" r="13.85"/><circle cx="1399.6" cy="2044.6" r="13.85"/><circle cx="1411.6" cy="2044.6" r="13.85"/><circle cx="1423.6" cy="2044.6" r="13.85"/><circle cx="1435.6" cy="2044.6" r="13.85"/><circle cx="1447.6" cy="2044.6" r="13.85"/><circle cx="1459.6" cy="2044.6" r="13.85"/><circle cx="1237.6" cy="2055" r="13.85"/><circle cx="1249.6" cy="2055" r="13.85"/><circle cx="1261.6" cy="2055" r="13.85"/><circle cx="1273.6" cy="2055" r="13.85"/><circle cx="1285.6" cy="2055" r="13.85"/><circle cx="1297.6" cy="2055" r="13.85"/><circle cx="1309.6" cy="2055" r="13.85"/><circle cx="1321.6" cy="2055" r="13.85"/><circle cx="1333.6" cy="2055" r="13.85"/><circle cx="1345.6" cy="2055" r="13.85"/><circle cx="1357.6" cy="2055" r="13.85"/><circle cx="1369.6" cy="2055" r="13.85"/><circle cx="1381.6" cy="2055" r="13.85"/><circle cx="1393.6" cy="2055" r="13.85"/><circle cx="1405.6" cy="2055" r="13.85"/><circle cx="1417.6" cy="2055" r="13.85"/><circle cx="1429.6" cy="2055" r="13.85"/><circle cx="1441.6" cy="2055" r="13.85"/><circle cx="1453.6" cy="2055" r="13.85"/><circle cx="1465.6" cy="2055" r="13.85"/><circle cx="1477.6" cy="2055" r="13.85"/><circle cx="1489.6" cy="2055" r="13.85"/><circle cx="1501.6" cy="2055" r="13.85"/><circle cx="1513.6" cy="2055" r="13.85"/><circle cx="1243.6" cy="2065.4" r="13.85"/><circle cx="1255.6" cy="2065.4" r="13.85"/><circle cx="1267.6" cy="2065.4" r="13.85"/><circle cx="1279.6" cy="2065.4" r="13.85"/><circle cx="1291.6" cy="2065.4" r="13.85"/><circle cx="1303.6" cy="2065.4" r="13.85"/><circle cx="1315.6" cy="2065.4" r="13.85"/><circle cx="1327.6" cy="2065.4" r="13.85"/><circle cx="1339.6" cy="2065.4" r="13.85"/><circle cx="1351.6" cy="2065.4" r="13.85"/><circle cx="1363.6" cy="2065.4" r="13.85"/><circle cx="1375.6" cy="2065.4" r="13.85"/><circle cx="1387.6" cy="2065.4" r="13.85"/><circle cx="1399.6" cy="2065.4" r="13.85"/><circle cx="1411.6" cy="2065.4" r="13.85"/><circle cx="1423.6" cy="2065.4" r="13.85"/><circle cx="1435.6" cy="2065.4" r="13.85"/><circle cx="1447.6" cy="2065.4" r="13.85"/><circle cx="1459.6" cy="2065.4" r="13.85"/><circle cx="1471.6" cy="2065.4" r="13.85"/><circle cx="1483.6" cy="2065.4" r="13.85"/><circle cx="1495.6" cy="2065.4" r="13.85"/><circle cx="1507.6" cy="2065.4" r="13.85"/><circle cx="1519.6" cy="2065.4" r="13.85"/><circle cx="1531.6" cy="2065.4" r="13.85"/><circle cx="1543.6" cy="2065.4" r="13.85"/><circle cx="1237.6" cy="2075.8" r="13.85"/><circle cx="1249.6" cy="2075.8" r="13.85"/><circle cx="1261.6" cy="2075.8" r="13.85"/><circle cx="1273.6" cy="2075.8" r="13.85"/><circle cx="1285.6" cy="2075.8" r="13.85"/><circle cx="1297.6" cy="2075.8" r="13.85"/><circle cx="1309.6" cy="2075.8" r="13.85"/><circle cx="1321.6" cy="2075.8" r="13.85"/><circle cx="1333.6" cy="2075.8" r="13.85"/><circle cx="1345.6" cy="2075.8" r="13.85"/><circle cx="1357.6" cy="2075.8" r="13.85"/><circle cx="1369.6" cy="2075.8" r="13.85"/><circle cx="1381.6" cy="2075.8" r="13.85"/><circle cx="1393.6" cy="2075.8" r="13.85"/><circle cx="1405.6" cy="2075.8" r="13.85"/><circle cx="1417.6" cy="2075.8" r="13.85"/><circle cx="1429.6" cy="2075.8" r="13.85"/><circle cx="1441.6" cy="2075.8" r="13.85"/><circle cx="1453.6" cy="2075.8" r="13.85"/><circle cx="1465.6" cy="2075.8" r="13.85"/><circle cx="1477.6" cy="2075.8" r="13.85"/><circle cx="1489.6" cy="2075.8" r="13.85"/><circle cx="1501.6" cy="2075.8" r="13.85"/><circle cx="1513.6" cy="2075.8" r="13.85"/><circle cx="1525.6" cy="2075.8" r="13.85"/><circle cx="1537.6" cy="2075.8" r="13.85"/><circle cx="1243.6" cy="2086.2" r="13.85"/><circle cx="1255.6" cy="2086.2" r="13.85"/><circle cx="1267.6" cy="2086.2" r="13.85"/><circle cx="1279.6" cy="2086.2" r="13.85"/><circle cx="1291.6" cy="2086.2" r="13.85"/><circle cx="1303.6" cy="2086.2" r="13.85"/><circle cx="1315.6" cy="2086.2" r="13.85"/><circle cx="1327.6" cy="2086.2" r="13.85"/><circle cx="1339.6" cy="2086.2" r="13.85"/><circle cx="1351.6" cy="2086.2" r="13.85"/><circle cx="1363.6" cy="2086.2" r="13.85"/><circle cx="1375.6" cy="2086.2" r="13.85"/><circle cx="1387.6" cy="2086.2" r="13.85"/><circle cx="1399.6" cy="2086.2" r="13.85"/><circle cx="1411.6" cy="2086.2" r="13.85"/><circle cx="1423.6" cy="2086.2" r="13.85"/><circle cx="1435.6" cy="2086.2" r="13.85"/><circle cx="1447.6" cy="2086.2" r="13.85"/><circle cx="1459.6" cy="2086.2" r="13.85"/><circle cx="1471.6" cy="2086.2" r="13.85"/><circle cx="1483.6" cy="2086.2" r="13.85"/><circle cx="1495.6" cy="2086.2" r="13.85"/><circle cx="1507.6" cy="2086.2" r="13.85"/><circle cx="1519.6" cy="2086.2" r="13.85"/><circle cx="1531.6" cy="2086.2" r="13.85"/><circle cx="1543.6" cy="2086.2" r="13.85"/><circle cx="1237.6" cy="2096.6" r="13.85"/><circle cx="1249.6" cy="2096.6" r="13.85"/><circle cx="1261.6" cy="2096.6" r="13.85"/><circle cx="1273.6" cy="2096.6" r="13.85"/><circle cx="1285.6" cy="2096.6" r="13.85"/><circle cx="1297.6" cy="2096.6" r="13.85"/><circle cx="1309.6" cy="2096.6" r="13.85"/><circle cx="1321.6" cy="2096.6" r="13.85"/><circle cx="1333.6" cy="2096.6" r="13.85"/><circle cx="1345.6" cy="2096.6" r="13.85"/><circle cx="1357.6" cy="2096.6" r="13.85"/><circle cx="1369.6" cy="2096.6" r="13.85"/><circle cx="1381.6" cy="2096.6" r="13.85"/><circle cx="1393.6" cy="2096.6" r="13.85"/><circle cx="1405.6" cy="2096.6" r="13.85"/><circle cx="1417.6" cy="2096.6" r="13.85"/><circle cx="1429.6" cy="2096.6" r="13.85"/><circle cx="1441.6" cy="2096.6" r="13.85"/><circle cx="1453.6" cy="2096.6" r="13.85"/><circle cx="1465.6" cy="2096.6" r="13.85"/><circle cx="1477.6" cy="2096.6" r="13.85"/><circle cx="1489.6" cy="2096.6" r="13.85"/><circle cx="1501.6" cy="2096.6" r="13.85"/><circle cx="1513.6" cy="2096.6" r="13.85"/><circle cx="1525.6" cy="2096.6" r="13.85"/><circle cx="1537.6" cy="2096.6" r="13.85"/><circle cx="1243.6" cy="2107" r="13.85"/><circle cx="1255.6" cy="2107" r="13.85"/><circle cx="1267.6" cy="2107" r="13.85"/><circle cx="1279.6" cy="2107" r="13.85"/><circle cx="1291.6" cy="2107" r="13.85"/><circle cx="1303.6" cy="2107" r="13.85"/><circle cx="1315.6" cy="2107" r="13.85"/><circle cx="1327.6" cy="2107" r="13.85"/><circle cx="1339.6" cy="2107" r="13.85"/><circle cx="1351.6" cy="2107" r="13.85"/><circle cx="1363.6" cy="2107" r="13.85"/><circle cx="1375.6" cy="2107" r="13.85"/><circle cx="1387.6" cy="2107" r="13.85"/><circle cx="1399.6" cy="2107" r="13.85"/><circle cx="1411.6" cy="2107" r="13.85"/><circle cx="1423.6" cy="2107" r="13.85"/><circle cx="1435.6" cy="2107" r="13.85"/><circle cx="1447.6" cy="2107" r="13.85"/><circle cx="1459.6" cy="2107" r="13.85"/><circle cx="1471.6" cy="2107" r="13.85"/><circle cx="1483.6" cy="2107" r="13.85"/><circle cx="1495.6" cy="2107" r="13.85"/><circle cx="1507.6" cy="2107" r="13.85"/><circle cx="1519.6" cy="2107" r="13.85"/><circle cx="1531.6" cy="2107" r="13.85"/><circle cx="1543.6" cy="2107" r="13.85"/><circle cx="1237.6" cy="2117.4" r="13.85"/><circle cx="1249.6" cy="2117.4" r="13.85"/><circle cx="1261.6" cy="2117.4" r="13.85"/><circle cx="1273.6" cy="2117.4" r="13.85"/><circle cx="1285.6" cy="2117.4" r="13.85"/><circle cx="1297.6" cy="2117.4" r="13.85"/><circle cx="1309.6" cy="2117.4" r="13.85"/><circle cx="1321.6" cy="2117.4" r="13.85"/><circle cx="1333.6" cy="2117.4" r="13.85"/><circle cx="1345.6" cy="2117.4" r="13.85"/><circle cx="1357.6" cy="2117.4" r="13.85"/><circle cx="1369.6" cy="2117.4" r="13.85"/><circle cx="1381.6" cy="2117.4" r="13.85"/><circle cx="1393.6" cy="2117.4" r="13.85"/><circle cx="1405.6" cy="2117.4" r="13.85"/><circle cx="1417.6" cy="2117.4" r="13.85"/><circle cx="1429.6" cy="2117.4" r="13.85"/><circle cx="1441.6" cy="2117.4" r="13.85"/><circle cx="1453.6" cy="2117.4" r="13.85"/><circle cx="1465.6" cy="2117.4" r="13.85"/><circle cx="1477.6" cy="2117.4" r="13.85"/><circle cx="1489.6" cy="2117.4" r="13.85"/><circle cx="1501.6" cy="2117.4" r="13.85"/><circle cx="1513.6" cy="2117.4" r="13.85"/><circle cx="1525.6" cy="2117.4" r="13.85"/><circle cx="1537.6" cy="2117.4" r="13.85"/><circle cx="1243.6" cy="2127.8" r="13.85"/><circle cx="1255.6" cy="2127.8" r="13.85"/><circle cx="1267.6" cy="2127.8" r="13.85"/><circle cx="1279.6" cy="2127.8" r="13.85"/><circle cx="1291.6" cy="2127.8" r="13.85"/><circle cx="1303.6" cy="2127.8" r="13.85"/><circle cx="1315.6" cy="2127.8" r="13.85"/><circle cx="1327.6" cy="2127.8" r="13.85"/><circle cx="1339.6" cy="2127.8" r="13.85"/><circle cx="1351.6" cy="2127.8" r="13.85"/><circle cx="1363.6" cy="2127.8" r="13.85"/><circle cx="1375.6" cy="2127.8" r="13.85"/><circle cx="1387.6" cy="2127.8" r="13.85"/><circle cx="1399.6" cy="2127.8" r="13.85"/><circle cx="1411.6" cy="2127.8" r="13.85"/><circle cx="1423.6" cy="2127.8" r="13.85"/><circle cx="1435.6" cy="2127.8" r="13.85"/><circle cx="1447.6" cy="2127.8" r="13.85"/><circle cx="1459.6" cy="2127.8" r="13.85"/><circle cx="1471.6" cy="2127.8" r="13.85"/><circle cx="1483.6" cy="2127.8" r="13.85"/><circle cx="1495.6" cy="2127.8" r="13.85"/><circle cx="1507.6" cy="2127.8" r="13.85"/><circle cx="1519.6" cy="2127.8" r="13.85"/><circle cx="1531.6" cy="2127.8" r="13.85"/><circle cx="1543.6" cy="2127.8" r="13.85"/><circle cx="1249.6" cy="2138.1" r="13.85"/><circle cx="1261.6" cy="2138.1" r="13.85"/><circle cx="1273.6" cy="2138.1" r="13.85"/><circle cx="1285.6" cy="2138.1" r="13.85"/><circle cx="1297.6" cy="2138.1" r="13.85"/><circle cx="1309.6" cy="2138.1" r="13.85"/><circle cx="1321.6" cy="2138.1" r="13.85"/><circle cx="1333.6" cy="2138.1" r="13.85"/><circle cx="1345.6" cy="2138.1" r="13.85"/><circle cx="1357.6" cy="2138.1" r="13.85"/><circle cx="1369.6" cy="2138.1" r="13.85"/><circle cx="1381.6" cy="2138.1" r="13.85"/><circle cx="1393.6" cy="2138.1" r="13.85"/><circle cx="1405.6" cy="2138.1" r="13.85"/><circle cx="1417.6" cy="2138.1" r="13.85"/><circle cx="1429.6" cy="2138.1" r="13.85"/><circle cx="1441.6" cy="2138.1" r="13.85"/><circle cx="1453.6" cy="2138.1" r="13.85"/><circle cx="1465.6" cy="2138.1" r="13.85"/><circle cx="1477.6" cy="2138.1" r="13.85"/><circle cx="1489.6" cy="2138.1" r="13.85"/><circle cx="1255.6" cy="2148.5" r="13.85"/><circle cx="1267.6" cy="2148.5" r="13.85"/><circle cx="1279.6" cy="2148.5" r="13.85"/><circle cx="1291.6" cy="2148.5" r="13.85"/><circle cx="1303.6" cy="2148.5" r="13.85"/><circle cx="1315.6" cy="2148.5" r="13.85"/><circle cx="1327.6" cy="2148.5" r="13.85"/><circle cx="1339.6" cy="2148.5" r="13.85"/><circle cx="1351.6" cy="2148.5" r="13.85"/><circle cx="1363.6" cy="2148.5" r="13.85"/><circle cx="1375.6" cy="2148.5" r="13.85"/><circle cx="1387.6" cy="2148.5" r="13.85"/><circle cx="1399.6" cy="2148.5" r="13.85"/><circle cx="1411.6" cy="2148.5" r="13.85"/><circle cx="1423.6" cy="2148.5" r="13.85"/><circle cx="1285.6" cy="2158.9" r="13.85"/><circle cx="1297.6" cy="2158.9" r="13.85"/><circle cx="1309.6" cy="2158.9" r="13.85"/><circle cx="1321.6" cy="2158.9" r="13.85"/><circle cx="1314" cy="1905.5" r="13.85"/><circle cx="1392.6" cy="1921.6" r="13.85"/><circle cx="1603.7" cy="1921.6" r="13.85"/><circle cx="1272.4" cy="1957.8" r="13.85"/><circle cx="1342.2" cy="1951.9" r="13.85"/><circle cx="1363.6" cy="1951.9" r="13.85"/><circle cx="1377" cy="1957.8" r="13.85"/><circle cx="1373" cy="1994" r="13.85"/><circle cx="1420" cy="1996.7" r="13.85"/><circle cx="1249.6" cy="1983.3" r="13.85"/><circle cx="1284" cy="1983.3" r="13.85"/><circle cx="1308.6" cy="1994" r="13.85"/><circle cx="1318" cy="2004.7" r="13.85"/><circle cx="1264.4" cy="1995.3" r="13.85"/><circle cx="1237.6" cy="2019.5" r="13.85"/><circle cx="1350.2" cy="2019.5" r="13.85"/><circle cx="1397.2" cy="2008.8" r="13.85"/><circle cx="1409.2" cy="2022.2" r="13.85"/><circle cx="1430.7" cy="2024.8" r="13.85"/><circle cx="1449.5" cy="2014.1" r="13.85"/><circle cx="1479" cy="2016.8" r="13.85"/><circle cx="1487" cy="2004.7" r="13.85"/><circle cx="1499.1" cy="2019.5" r="13.85"/><circle cx="1559.4" cy="1998" r="13.85"/><circle cx="1542" cy="2014.1" r="13.85"/><circle cx="1550.1" cy="2026.2" r="13.85"/><circle cx="1525.9" cy="2035.6" r="13.85"/><circle cx="1468.2" cy="2046.3" r="13.85"/><circle cx="1492.4" cy="2051.7" r="13.85"/><circle cx="1521.9" cy="2051.7" r="13.85"/><circle cx="1546" cy="2062.4" r="13.85"/><circle cx="1584.9" cy="2057" r="13.85"/><circle cx="1579.6" cy="2067.8" r="13.85"/><circle cx="1619" cy="2046.3" r="13.85"/><circle cx="1613.1" cy="2066.4" r="13.85"/><circle cx="1609.1" cy="2089.2" r="13.85"/><circle cx="1586.3" cy="2094.6" r="13.85"/><circle cx="1570.2" cy="2083.9" r="13.85"/><circle cx="1634.5" cy="2094.6" r="13.85"/><circle cx="1650.6" cy="2078.5" r="13.85"/><circle cx="1664.1" cy="2062.4" r="13.85"/><circle cx="1672.1" cy="2094.6" r="13.85"/><circle cx="1692.2" cy="2057" r="13.85"/><circle cx="1704.3" cy="2078.5" r="13.85"/><circle cx="1629.2" cy="2108" r="13.85"/><circle cx="1605" cy="2108" r="13.85"/><circle cx="1591.6" cy="2130.8" r="13.85"/><circle cx="1629.2" cy="2134.8" r="13.85"/><circle cx="1642.1" cy="2162.2" r="13.85"/><circle cx="1548.7" cy="2109.3" r="13.85"/><circle cx="1543.3" cy="2130.8" r="13.85"/><circle cx="1529.9" cy="2130.8" r="13.85"/><circle cx="1491" cy="2146.9" r="13.85"/><circle cx="1457.5" cy="2140.2" r="13.85"/><circle cx="1441.4" cy="2141.5" r="13.85"/><circle cx="1399.8" cy="2163" r="13.85"/><circle cx="1352.9" cy="2150.9" r="13.85"/><circle cx="1326.1" cy="2163" r="13.85"/><circle cx="1300.6" cy="2163" r="13.85"/><circle cx="1280.5" cy="2161.7" r="13.85"/><circle cx="1244.3" cy="2146.9" r="13.85"/><circle cx="1238.1" cy="2129.5" r="13.85"/><circle cx="1237.6" cy="2113.4" r="13.85"/><circle cx="1237.6" cy="2094.6" r="13.85"/><circle cx="1237.6" cy="2073.1" r="13.85"/><circle cx="1237.6" cy="2054.4" r="13.85"/><circle cx="1237.6" cy="2038.3" r="13.85"/><circle cx="1718.5" cy="2051.3" r="13.85"/><circle cx="1733" cy="2062.8" r="13.85"/><circle cx="1743.1" cy="2078.8" r="13.85"/><circle cx="1773.5" cy="2083.1" r="13.85"/><circle cx="1759.1" cy="2087.5" r="13.85"/><circle cx="1747.5" cy="2104" r="13.85"/><circle cx="1762" cy="2130.9" r="13.85"/><circle cx="1793" cy="2140.2" r="13.85"/><circle cx="1858.1" cy="2046.9" r="13.85"/><circle cx="1853.2" cy="2083.1" r="13.85"/><circle cx="1880.2" cy="2103.4" r="13.85"/><circle cx="1880.2" cy="2120.2" r="13.85"/><circle cx="2004.7" cy="2078.2" r="13.85"/><circle cx="2008.8" cy="2104.3" r="13.85"/><circle cx="2047.3" cy="2072.1" r="13.85"/><circle cx="2111.9" cy="2140.5" r="13.85"/><circle cx="1649" cy="2093.3" r="13.85"/>
</g>
<path class="ax" d="M1239.4 2184.1v14.0M1378.5 2184.1v14.0M1517.7 2184.1v14.0M1656.8 2184.1v14.0M1795.9 2184.1v14.0M1935.1 2184.1v14.0M2074.2 2184.1v14.0M1192.5 2171.6h-14.0M1192.5 2006.5h-14.0M1192.5 1841.3h-14.0"/>
<rect class="ax" x="1192.5" y="1793.3" width="963.2" height="390.8"/>
<text class="tk" text-anchor="middle" x="1239.4" y="2243.1">3.2</text>
<text class="tk" text-anchor="middle" x="1378.5" y="2243.1">3.4</text>
<text class="tk" text-anchor="middle" x="1517.7" y="2243.1">3.6</text>
<text class="tk" text-anchor="middle" x="1656.8" y="2243.1">3.8</text>
<text class="tk" text-anchor="middle" x="1795.9" y="2243.1">4.0</text>
<text class="tk" text-anchor="middle" x="1935.1" y="2243.1">4.2</text>
<text class="tk" text-anchor="middle" x="2074.2" y="2243.1">4.4</text>
<text class="lb" text-anchor="middle" x="1674.1" y="1768.9">Unphased nSL score in LBK vs. WHG ancestry</text>
<text class="lb" text-anchor="middle" x="1674.1" y="2292.1">|Normalized nSL (unphased) score|</text>
<text class="lb" text-anchor="middle" transform="translate(1152.8 1989.6) rotate(-90)">WHG ancestry</text>
<text class="lb" y="1841.1"><tspan class="it" x="1674.1">r</tspan><tspan class="sub" x="1687.3" dy="4.7">s</tspan><tspan x="1705.6" dy="-4.7">=</tspan><tspan x="1739.1">0.01027</tspan><tspan class="it" x="1872.6">,</tspan><tspan class="it" x="1888.4">p</tspan><tspan x="1915.4">=</tspan><tspan x="1948.9">0.7495</tspan></text>
</g>
</svg></body></html>
